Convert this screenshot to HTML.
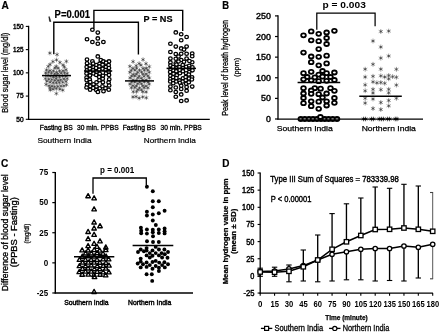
<!DOCTYPE html>
<html lang="en"><head><meta charset="utf-8"><title>Figure</title>
<style>
html,body{margin:0;padding:0;background:#fff;}
body{width:440px;height:333px;overflow:hidden;}
svg{display:block;filter:blur(0.3px);}
text{font-family:'Liberation Sans', sans-serif;fill:#000;}
</style></head><body>
<svg width="440" height="333" viewBox="0 0 440 333">
<rect width="440" height="333" fill="#fff"/>
<g id="panelA">
<text x="1.40" y="8.80" font-size="11.0" stroke="#000" stroke-width="0.2" font-weight="bold" textLength="7.30" lengthAdjust="spacingAndGlyphs">A</text>
<line x1="28.60" y1="25.80" x2="28.60" y2="119.90" stroke="#000" stroke-width="1.3"/>
<line x1="28.00" y1="119.30" x2="209.80" y2="119.30" stroke="#000" stroke-width="1.3"/>
<line x1="25.80" y1="26.40" x2="28.60" y2="26.40" stroke="#000" stroke-width="1.1"/>
<text x="13.00" y="28.80" font-size="6.8" stroke="#000" stroke-width="0.4" textLength="10.60" lengthAdjust="spacingAndGlyphs">150</text>
<line x1="25.80" y1="49.62" x2="28.60" y2="49.62" stroke="#000" stroke-width="1.1"/>
<text x="13.00" y="52.02" font-size="6.8" stroke="#000" stroke-width="0.4" textLength="10.60" lengthAdjust="spacingAndGlyphs">125</text>
<line x1="25.80" y1="72.85" x2="28.60" y2="72.85" stroke="#000" stroke-width="1.1"/>
<text x="13.00" y="75.25" font-size="6.8" stroke="#000" stroke-width="0.4" textLength="10.60" lengthAdjust="spacingAndGlyphs">100</text>
<line x1="25.80" y1="96.08" x2="28.60" y2="96.08" stroke="#000" stroke-width="1.1"/>
<text x="16.30" y="98.48" font-size="6.8" stroke="#000" stroke-width="0.4" textLength="7.30" lengthAdjust="spacingAndGlyphs">75</text>
<line x1="25.80" y1="119.30" x2="28.60" y2="119.30" stroke="#000" stroke-width="1.1"/>
<text x="16.30" y="121.70" font-size="6.8" stroke="#000" stroke-width="0.4" textLength="7.30" lengthAdjust="spacingAndGlyphs">50</text>
<text x="8.20" y="112.80" font-size="8.4" stroke="#000" stroke-width="0.25" textLength="80.00" lengthAdjust="spacingAndGlyphs" transform="rotate(-90 8.20 112.80)">Blood sugar level (mg/dl)</text>
<text x="54.60" y="17.60" font-size="10.3" stroke="#000" stroke-width="0.2" font-weight="bold" textLength="35.40" lengthAdjust="spacingAndGlyphs">P=0.001</text>
<text x="143.50" y="21.50" font-size="9.7" stroke="#000" stroke-width="0.2" font-weight="bold" textLength="29.00" lengthAdjust="spacingAndGlyphs">P = NS</text>
<path d="M49.1 16.4L49.8 18L50.9 21.6L49.6 21.4L48.9 17.2Z" stroke="#111" stroke-width="0.5" fill="#111"/>
<text x="39.80" y="129.80" font-size="6.3" stroke="#000" stroke-width="0.3" textLength="32.90" lengthAdjust="spacingAndGlyphs">Fasting BS</text>
<text x="77.00" y="129.80" font-size="6.3" stroke="#000" stroke-width="0.3" textLength="41.60" lengthAdjust="spacingAndGlyphs">30 min. PPBS</text>
<text x="122.70" y="129.80" font-size="6.3" stroke="#000" stroke-width="0.3" textLength="33.20" lengthAdjust="spacingAndGlyphs">Fasting BS</text>
<text x="160.50" y="129.80" font-size="6.3" stroke="#000" stroke-width="0.3" textLength="41.30" lengthAdjust="spacingAndGlyphs">30 min. PPBS</text>
<text x="37.40" y="142.50" font-size="8.0" stroke="#000" stroke-width="0.2" textLength="54.20" lengthAdjust="spacingAndGlyphs">Southern India</text>
<text x="143.80" y="142.50" font-size="8.0" stroke="#000" stroke-width="0.2" textLength="52.00" lengthAdjust="spacingAndGlyphs">Northern India</text>
<circle cx="49.86" cy="53.12" r="0.85" fill="#222"/>
<path d="M49.86 50.82L49.86 55.42M47.87 51.97L51.85 54.27M51.85 51.97L47.87 54.27" stroke="#555" stroke-width="0.55" fill="none"/>
<circle cx="57.05" cy="54.52" r="0.85" fill="#222"/>
<path d="M57.05 52.22L57.05 56.82M55.06 53.37L59.04 55.67M59.04 53.37L55.06 55.67" stroke="#555" stroke-width="0.55" fill="none"/>
<circle cx="56.52" cy="59.91" r="0.85" fill="#222"/>
<path d="M56.52 57.61L56.52 62.21M54.53 58.76L58.51 61.06M58.51 58.76L54.53 61.06" stroke="#555" stroke-width="0.55" fill="none"/>
<circle cx="52.86" cy="61.58" r="0.85" fill="#222"/>
<path d="M52.86 59.28L52.86 63.88M50.87 60.43L54.86 62.73M54.86 60.43L50.87 62.73" stroke="#555" stroke-width="0.55" fill="none"/>
<circle cx="59.92" cy="62.47" r="0.85" fill="#222"/>
<path d="M59.92 60.17L59.92 64.77M57.93 61.32L61.91 63.62M61.91 61.32L57.93 63.62" stroke="#555" stroke-width="0.55" fill="none"/>
<circle cx="66.40" cy="61.41" r="0.85" fill="#222"/>
<path d="M66.40 59.11L66.40 63.71M64.41 60.26L68.39 62.56M68.39 60.26L64.41 62.56" stroke="#555" stroke-width="0.55" fill="none"/>
<circle cx="50.08" cy="64.47" r="0.85" fill="#222"/>
<path d="M50.08 62.17L50.08 66.77M48.09 63.32L52.08 65.62M52.08 63.32L48.09 65.62" stroke="#555" stroke-width="0.55" fill="none"/>
<circle cx="63.02" cy="65.04" r="0.85" fill="#222"/>
<path d="M63.02 62.74L63.02 67.34M61.03 63.89L65.01 66.19M65.01 63.89L61.03 66.19" stroke="#555" stroke-width="0.55" fill="none"/>
<circle cx="48.26" cy="66.46" r="0.85" fill="#222"/>
<path d="M48.26 64.16L48.26 68.76M46.26 65.31L50.25 67.61M50.25 65.31L46.26 67.61" stroke="#555" stroke-width="0.55" fill="none"/>
<circle cx="56.29" cy="66.41" r="0.85" fill="#222"/>
<path d="M56.29 64.11L56.29 68.71M54.30 65.26L58.28 67.56M58.28 65.26L54.30 67.56" stroke="#555" stroke-width="0.55" fill="none"/>
<circle cx="64.33" cy="66.83" r="0.85" fill="#222"/>
<path d="M64.33 64.53L64.33 69.13M62.34 65.68L66.32 67.98M66.32 65.68L62.34 67.98" stroke="#555" stroke-width="0.55" fill="none"/>
<circle cx="54.95" cy="67.92" r="0.85" fill="#222"/>
<path d="M54.95 65.62L54.95 70.22M52.96 66.77L56.94 69.07M56.94 66.77L52.96 69.07" stroke="#555" stroke-width="0.55" fill="none"/>
<circle cx="58.06" cy="68.11" r="0.85" fill="#222"/>
<path d="M58.06 65.81L58.06 70.41M56.07 66.96L60.05 69.26M60.05 66.96L56.07 69.26" stroke="#555" stroke-width="0.55" fill="none"/>
<circle cx="46.55" cy="69.89" r="0.85" fill="#222"/>
<path d="M46.55 67.59L46.55 72.19M44.56 68.74L48.54 71.04M48.54 68.74L44.56 71.04" stroke="#555" stroke-width="0.55" fill="none"/>
<circle cx="49.95" cy="70.56" r="0.85" fill="#222"/>
<path d="M49.95 68.26L49.95 72.86M47.96 69.41L51.95 71.71M51.95 69.41L47.96 71.71" stroke="#555" stroke-width="0.55" fill="none"/>
<circle cx="53.34" cy="70.79" r="0.85" fill="#222"/>
<path d="M53.34 68.49L53.34 73.09M51.35 69.64L55.33 71.94M55.33 69.64L51.35 71.94" stroke="#555" stroke-width="0.55" fill="none"/>
<circle cx="59.59" cy="70.83" r="0.85" fill="#222"/>
<path d="M59.59 68.53L59.59 73.13M57.60 69.68L61.59 71.98M61.59 69.68L57.60 71.98" stroke="#555" stroke-width="0.55" fill="none"/>
<circle cx="63.02" cy="70.79" r="0.85" fill="#222"/>
<path d="M63.02 68.49L63.02 73.09M61.03 69.64L65.01 71.94M65.01 69.64L61.03 71.94" stroke="#555" stroke-width="0.55" fill="none"/>
<circle cx="66.05" cy="69.72" r="0.85" fill="#222"/>
<path d="M66.05 67.42L66.05 72.02M64.06 68.57L68.04 70.87M68.04 68.57L64.06 70.87" stroke="#555" stroke-width="0.55" fill="none"/>
<circle cx="56.50" cy="72.23" r="0.85" fill="#222"/>
<path d="M56.50 69.93L56.50 74.53M54.50 71.08L58.49 73.38M58.49 71.08L54.50 73.38" stroke="#555" stroke-width="0.55" fill="none"/>
<circle cx="45.70" cy="72.90" r="0.85" fill="#222"/>
<path d="M45.70 70.60L45.70 75.20M43.71 71.75L47.69 74.05M47.69 71.75L43.71 74.05" stroke="#555" stroke-width="0.55" fill="none"/>
<circle cx="48.53" cy="72.43" r="0.85" fill="#222"/>
<path d="M48.53 70.13L48.53 74.73M46.54 71.28L50.52 73.58M50.52 71.28L46.54 73.58" stroke="#555" stroke-width="0.55" fill="none"/>
<circle cx="51.52" cy="72.98" r="0.85" fill="#222"/>
<path d="M51.52 70.68L51.52 75.28M49.53 71.83L53.51 74.13M53.51 71.83L49.53 74.13" stroke="#555" stroke-width="0.55" fill="none"/>
<circle cx="54.70" cy="73.85" r="0.85" fill="#222"/>
<path d="M54.70 71.55L54.70 76.15M52.71 72.70L56.69 75.00M56.69 72.70L52.71 75.00" stroke="#555" stroke-width="0.55" fill="none"/>
<circle cx="57.75" cy="73.69" r="0.85" fill="#222"/>
<path d="M57.75 71.39L57.75 75.99M55.76 72.54L59.74 74.84M59.74 72.54L55.76 74.84" stroke="#555" stroke-width="0.55" fill="none"/>
<circle cx="61.12" cy="73.10" r="0.85" fill="#222"/>
<path d="M61.12 70.80L61.12 75.40M59.13 71.95L63.11 74.25M63.11 71.95L59.13 74.25" stroke="#555" stroke-width="0.55" fill="none"/>
<circle cx="64.56" cy="72.79" r="0.85" fill="#222"/>
<path d="M64.56 70.49L64.56 75.09M62.57 71.64L66.55 73.94M66.55 71.64L62.57 73.94" stroke="#555" stroke-width="0.55" fill="none"/>
<circle cx="67.31" cy="73.39" r="0.85" fill="#222"/>
<path d="M67.31 71.09L67.31 75.69M65.32 72.24L69.30 74.54M69.30 72.24L65.32 74.54" stroke="#555" stroke-width="0.55" fill="none"/>
<circle cx="47.10" cy="75.58" r="0.85" fill="#222"/>
<path d="M47.10 73.28L47.10 77.88M45.11 74.43L49.09 76.73M49.09 74.43L45.11 76.73" stroke="#555" stroke-width="0.55" fill="none"/>
<circle cx="50.34" cy="75.96" r="0.85" fill="#222"/>
<path d="M50.34 73.66L50.34 78.26M48.35 74.81L52.33 77.11M52.33 74.81L48.35 77.11" stroke="#555" stroke-width="0.55" fill="none"/>
<circle cx="53.32" cy="76.97" r="0.85" fill="#222"/>
<path d="M53.32 74.67L53.32 79.27M51.33 75.82L55.32 78.12M55.32 75.82L51.33 78.12" stroke="#555" stroke-width="0.55" fill="none"/>
<circle cx="56.16" cy="76.14" r="0.85" fill="#222"/>
<path d="M56.16 73.84L56.16 78.44M54.17 74.99L58.15 77.29M58.15 74.99L54.17 77.29" stroke="#555" stroke-width="0.55" fill="none"/>
<circle cx="59.53" cy="76.84" r="0.85" fill="#222"/>
<path d="M59.53 74.54L59.53 79.14M57.54 75.69L61.52 77.99M61.52 75.69L57.54 77.99" stroke="#555" stroke-width="0.55" fill="none"/>
<circle cx="62.55" cy="75.97" r="0.85" fill="#222"/>
<path d="M62.55 73.67L62.55 78.27M60.56 74.82L64.55 77.12M64.55 74.82L60.56 77.12" stroke="#555" stroke-width="0.55" fill="none"/>
<circle cx="65.84" cy="76.03" r="0.85" fill="#222"/>
<path d="M65.84 73.73L65.84 78.33M63.85 74.88L67.83 77.18M67.83 74.88L63.85 77.18" stroke="#555" stroke-width="0.55" fill="none"/>
<circle cx="45.45" cy="78.53" r="0.85" fill="#222"/>
<path d="M45.45 76.23L45.45 80.83M43.46 77.38L47.44 79.68M47.44 77.38L43.46 79.68" stroke="#555" stroke-width="0.55" fill="none"/>
<circle cx="48.81" cy="79.22" r="0.85" fill="#222"/>
<path d="M48.81 76.92L48.81 81.52M46.82 78.07L50.81 80.37M50.81 78.07L46.82 80.37" stroke="#555" stroke-width="0.55" fill="none"/>
<circle cx="51.72" cy="79.53" r="0.85" fill="#222"/>
<path d="M51.72 77.23L51.72 81.83M49.73 78.38L53.71 80.68M53.71 78.38L49.73 80.68" stroke="#555" stroke-width="0.55" fill="none"/>
<circle cx="54.91" cy="80.34" r="0.85" fill="#222"/>
<path d="M54.91 78.04L54.91 82.64M52.92 79.19L56.90 81.49M56.90 79.19L52.92 81.49" stroke="#555" stroke-width="0.55" fill="none"/>
<circle cx="56.20" cy="78.32" r="0.85" fill="#222"/>
<path d="M56.20 76.02L56.20 80.62M54.21 77.17L58.20 79.47M58.20 77.17L54.21 79.47" stroke="#555" stroke-width="0.55" fill="none"/>
<circle cx="58.15" cy="80.38" r="0.85" fill="#222"/>
<path d="M58.15 78.08L58.15 82.68M56.16 79.23L60.14 81.53M60.14 79.23L56.16 81.53" stroke="#555" stroke-width="0.55" fill="none"/>
<circle cx="60.77" cy="79.82" r="0.85" fill="#222"/>
<path d="M60.77 77.52L60.77 82.12M58.78 78.67L62.76 80.97M62.76 78.67L58.78 80.97" stroke="#555" stroke-width="0.55" fill="none"/>
<circle cx="64.00" cy="78.92" r="0.85" fill="#222"/>
<path d="M64.00 76.62L64.00 81.22M62.00 77.77L65.99 80.07M65.99 77.77L62.00 80.07" stroke="#555" stroke-width="0.55" fill="none"/>
<circle cx="67.26" cy="78.61" r="0.85" fill="#222"/>
<path d="M67.26 76.31L67.26 80.91M65.26 77.46L69.25 79.76M69.25 77.46L65.26 79.76" stroke="#555" stroke-width="0.55" fill="none"/>
<circle cx="50.12" cy="82.21" r="0.85" fill="#222"/>
<path d="M50.12 79.91L50.12 84.51M48.13 81.06L52.11 83.36M52.11 81.06L48.13 83.36" stroke="#555" stroke-width="0.55" fill="none"/>
<circle cx="53.22" cy="82.71" r="0.85" fill="#222"/>
<path d="M53.22 80.41L53.22 85.01M51.23 81.56L55.21 83.86M55.21 81.56L51.23 83.86" stroke="#555" stroke-width="0.55" fill="none"/>
<circle cx="56.31" cy="82.84" r="0.85" fill="#222"/>
<path d="M56.31 80.54L56.31 85.14M54.32 81.69L58.30 83.99M58.30 81.69L54.32 83.99" stroke="#555" stroke-width="0.55" fill="none"/>
<circle cx="59.39" cy="82.62" r="0.85" fill="#222"/>
<path d="M59.39 80.32L59.39 84.92M57.40 81.47L61.38 83.77M61.38 81.47L57.40 83.77" stroke="#555" stroke-width="0.55" fill="none"/>
<circle cx="62.69" cy="82.25" r="0.85" fill="#222"/>
<path d="M62.69 79.95L62.69 84.55M60.70 81.10L64.69 83.40M64.69 81.10L60.70 83.40" stroke="#555" stroke-width="0.55" fill="none"/>
<circle cx="46.83" cy="81.17" r="0.85" fill="#222"/>
<path d="M46.83 78.87L46.83 83.47M44.84 80.02L48.82 82.32M48.82 80.02L44.84 82.32" stroke="#555" stroke-width="0.55" fill="none"/>
<circle cx="66.04" cy="81.42" r="0.85" fill="#222"/>
<path d="M66.04 79.12L66.04 83.72M64.05 80.27L68.04 82.57M68.04 80.27L64.05 82.57" stroke="#555" stroke-width="0.55" fill="none"/>
<circle cx="46.15" cy="84.47" r="0.85" fill="#222"/>
<path d="M46.15 82.17L46.15 86.77M44.16 83.32L48.14 85.62M48.14 83.32L44.16 85.62" stroke="#555" stroke-width="0.55" fill="none"/>
<circle cx="49.05" cy="85.76" r="0.85" fill="#222"/>
<path d="M49.05 83.46L49.05 88.06M47.06 84.61L51.04 86.91M51.04 84.61L47.06 86.91" stroke="#555" stroke-width="0.55" fill="none"/>
<circle cx="51.98" cy="86.16" r="0.85" fill="#222"/>
<path d="M51.98 83.86L51.98 88.46M49.99 85.01L53.97 87.31M53.97 85.01L49.99 87.31" stroke="#555" stroke-width="0.55" fill="none"/>
<circle cx="54.58" cy="86.61" r="0.85" fill="#222"/>
<path d="M54.58 84.31L54.58 88.91M52.59 85.46L56.57 87.76M56.57 85.46L52.59 87.76" stroke="#555" stroke-width="0.55" fill="none"/>
<circle cx="57.77" cy="86.40" r="0.85" fill="#222"/>
<path d="M57.77 84.10L57.77 88.70M55.77 85.25L59.76 87.55M59.76 85.25L55.77 87.55" stroke="#555" stroke-width="0.55" fill="none"/>
<circle cx="60.97" cy="86.02" r="0.85" fill="#222"/>
<path d="M60.97 83.72L60.97 88.32M58.98 84.87L62.96 87.17M62.96 84.87L58.98 87.17" stroke="#555" stroke-width="0.55" fill="none"/>
<circle cx="63.92" cy="85.82" r="0.85" fill="#222"/>
<path d="M63.92 83.52L63.92 88.12M61.92 84.67L65.91 86.97M65.91 84.67L61.92 86.97" stroke="#555" stroke-width="0.55" fill="none"/>
<circle cx="66.47" cy="84.74" r="0.85" fill="#222"/>
<path d="M66.47 82.44L66.47 87.04M64.47 83.59L68.46 85.89M68.46 83.59L64.47 85.89" stroke="#555" stroke-width="0.55" fill="none"/>
<circle cx="50.00" cy="87.97" r="0.85" fill="#222"/>
<path d="M50.00 85.67L50.00 90.27M48.01 86.82L52.00 89.12M52.00 86.82L48.01 89.12" stroke="#555" stroke-width="0.55" fill="none"/>
<circle cx="53.02" cy="89.17" r="0.85" fill="#222"/>
<path d="M53.02 86.87L53.02 91.47M51.03 88.02L55.02 90.32M55.02 88.02L51.03 90.32" stroke="#555" stroke-width="0.55" fill="none"/>
<circle cx="56.30" cy="88.58" r="0.85" fill="#222"/>
<path d="M56.30 86.28L56.30 90.88M54.31 87.43L58.29 89.73M58.29 87.43L54.31 89.73" stroke="#555" stroke-width="0.55" fill="none"/>
<circle cx="59.85" cy="89.18" r="0.85" fill="#222"/>
<path d="M59.85 86.88L59.85 91.48M57.86 88.03L61.84 90.33M61.84 88.03L57.86 90.33" stroke="#555" stroke-width="0.55" fill="none"/>
<circle cx="62.74" cy="90.18" r="0.85" fill="#222"/>
<path d="M62.74 87.88L62.74 92.48M60.75 89.03L64.73 91.33M64.73 89.03L60.75 91.33" stroke="#555" stroke-width="0.55" fill="none"/>
<circle cx="50.29" cy="89.91" r="0.85" fill="#222"/>
<path d="M50.29 87.61L50.29 92.21M48.30 88.76L52.29 91.06M52.29 88.76L48.30 91.06" stroke="#555" stroke-width="0.55" fill="none"/>
<circle cx="56.39" cy="93.50" r="0.85" fill="#222"/>
<path d="M56.39 91.20L56.39 95.80M54.40 92.35L58.38 94.65M58.38 92.35L54.40 94.65" stroke="#555" stroke-width="0.55" fill="none"/>
<line x1="42.00" y1="75.60" x2="71.00" y2="75.60" stroke="#000" stroke-width="1.5"/>
<circle cx="143.05" cy="59.56" r="0.85" fill="#222"/>
<path d="M143.05 57.26L143.05 61.86M141.05 58.41L145.04 60.71M145.04 58.41L141.05 60.71" stroke="#555" stroke-width="0.55" fill="none"/>
<circle cx="133.09" cy="61.58" r="0.85" fill="#222"/>
<path d="M133.09 59.28L133.09 63.88M131.10 60.43L135.08 62.73M135.08 60.43L131.10 62.73" stroke="#555" stroke-width="0.55" fill="none"/>
<circle cx="139.15" cy="63.48" r="0.85" fill="#222"/>
<path d="M139.15 61.18L139.15 65.78M137.16 62.33L141.14 64.63M141.14 62.33L137.16 64.63" stroke="#555" stroke-width="0.55" fill="none"/>
<circle cx="145.99" cy="63.63" r="0.85" fill="#222"/>
<path d="M145.99 61.33L145.99 65.93M143.99 62.48L147.98 64.78M147.98 62.48L143.99 64.78" stroke="#555" stroke-width="0.55" fill="none"/>
<circle cx="140.94" cy="65.14" r="0.85" fill="#222"/>
<path d="M140.94 62.84L140.94 67.44M138.94 63.99L142.93 66.29M142.93 63.99L138.94 66.29" stroke="#555" stroke-width="0.55" fill="none"/>
<circle cx="129.89" cy="66.35" r="0.85" fill="#222"/>
<path d="M129.89 64.05L129.89 68.65M127.89 65.20L131.88 67.50M131.88 65.20L127.89 67.50" stroke="#555" stroke-width="0.55" fill="none"/>
<circle cx="149.31" cy="66.56" r="0.85" fill="#222"/>
<path d="M149.31 64.26L149.31 68.86M147.32 65.41L151.31 67.71M151.31 65.41L147.32 67.71" stroke="#555" stroke-width="0.55" fill="none"/>
<circle cx="136.22" cy="65.69" r="0.85" fill="#222"/>
<path d="M136.22 63.39L136.22 67.99M134.23 64.54L138.21 66.84M138.21 64.54L134.23 66.84" stroke="#555" stroke-width="0.55" fill="none"/>
<circle cx="132.95" cy="68.33" r="0.85" fill="#222"/>
<path d="M132.95 66.03L132.95 70.63M130.95 67.18L134.94 69.48M134.94 67.18L130.95 69.48" stroke="#555" stroke-width="0.55" fill="none"/>
<circle cx="136.65" cy="68.18" r="0.85" fill="#222"/>
<path d="M136.65 65.88L136.65 70.48M134.66 67.03L138.64 69.33M138.64 67.03L134.66 69.33" stroke="#555" stroke-width="0.55" fill="none"/>
<circle cx="143.05" cy="68.39" r="0.85" fill="#222"/>
<path d="M143.05 66.09L143.05 70.69M141.06 67.24L145.04 69.54M145.04 67.24L141.06 69.54" stroke="#555" stroke-width="0.55" fill="none"/>
<circle cx="146.17" cy="68.22" r="0.85" fill="#222"/>
<path d="M146.17 65.92L146.17 70.52M144.18 67.07L148.16 69.37M148.16 67.07L144.18 69.37" stroke="#555" stroke-width="0.55" fill="none"/>
<circle cx="131.30" cy="70.40" r="0.85" fill="#222"/>
<path d="M131.30 68.10L131.30 72.70M129.30 69.25L133.29 71.55M133.29 69.25L129.30 71.55" stroke="#555" stroke-width="0.55" fill="none"/>
<circle cx="139.55" cy="70.22" r="0.85" fill="#222"/>
<path d="M139.55 67.92L139.55 72.52M137.56 69.07L141.54 71.37M141.54 69.07L137.56 71.37" stroke="#555" stroke-width="0.55" fill="none"/>
<circle cx="147.80" cy="70.10" r="0.85" fill="#222"/>
<path d="M147.80 67.80L147.80 72.40M145.81 68.95L149.79 71.25M149.79 68.95L145.81 71.25" stroke="#555" stroke-width="0.55" fill="none"/>
<circle cx="134.87" cy="70.15" r="0.85" fill="#222"/>
<path d="M134.87 67.85L134.87 72.45M132.88 69.00L136.86 71.30M136.86 69.00L132.88 71.30" stroke="#555" stroke-width="0.55" fill="none"/>
<circle cx="144.43" cy="70.29" r="0.85" fill="#222"/>
<path d="M144.43 67.99L144.43 72.59M142.43 69.14L146.42 71.44M146.42 69.14L142.43 71.44" stroke="#555" stroke-width="0.55" fill="none"/>
<circle cx="129.85" cy="72.28" r="0.85" fill="#222"/>
<path d="M129.85 69.98L129.85 74.58M127.86 71.13L131.84 73.43M131.84 71.13L127.86 73.43" stroke="#555" stroke-width="0.55" fill="none"/>
<circle cx="137.73" cy="72.42" r="0.85" fill="#222"/>
<path d="M137.73 70.12L137.73 74.72M135.74 71.27L139.72 73.57M139.72 71.27L135.74 73.57" stroke="#555" stroke-width="0.55" fill="none"/>
<circle cx="141.50" cy="72.21" r="0.85" fill="#222"/>
<path d="M141.50 69.91L141.50 74.51M139.51 71.06L143.50 73.36M143.50 71.06L139.51 73.36" stroke="#555" stroke-width="0.55" fill="none"/>
<circle cx="149.27" cy="72.30" r="0.85" fill="#222"/>
<path d="M149.27 70.00L149.27 74.60M147.28 71.15L151.26 73.45M151.26 71.15L147.28 73.45" stroke="#555" stroke-width="0.55" fill="none"/>
<circle cx="133.25" cy="74.39" r="0.85" fill="#222"/>
<path d="M133.25 72.09L133.25 76.69M131.26 73.24L135.24 75.54M135.24 73.24L131.26 75.54" stroke="#555" stroke-width="0.55" fill="none"/>
<circle cx="136.26" cy="74.08" r="0.85" fill="#222"/>
<path d="M136.26 71.78L136.26 76.38M134.27 72.93L138.26 75.23M138.26 72.93L134.27 75.23" stroke="#555" stroke-width="0.55" fill="none"/>
<circle cx="142.95" cy="74.05" r="0.85" fill="#222"/>
<path d="M142.95 71.75L142.95 76.35M140.96 72.90L144.94 75.20M144.94 72.90L140.96 75.20" stroke="#555" stroke-width="0.55" fill="none"/>
<circle cx="146.04" cy="73.94" r="0.85" fill="#222"/>
<path d="M146.04 71.64L146.04 76.24M144.05 72.79L148.04 75.09M148.04 72.79L144.05 75.09" stroke="#555" stroke-width="0.55" fill="none"/>
<circle cx="131.69" cy="76.11" r="0.85" fill="#222"/>
<path d="M131.69 73.81L131.69 78.41M129.70 74.96L133.68 77.26M133.68 74.96L129.70 77.26" stroke="#555" stroke-width="0.55" fill="none"/>
<circle cx="139.21" cy="76.18" r="0.85" fill="#222"/>
<path d="M139.21 73.88L139.21 78.48M137.22 75.03L141.20 77.33M141.20 75.03L137.22 77.33" stroke="#555" stroke-width="0.55" fill="none"/>
<circle cx="147.91" cy="75.95" r="0.85" fill="#222"/>
<path d="M147.91 73.65L147.91 78.25M145.91 74.80L149.90 77.10M149.90 74.80L145.91 77.10" stroke="#555" stroke-width="0.55" fill="none"/>
<circle cx="134.79" cy="75.92" r="0.85" fill="#222"/>
<path d="M134.79 73.62L134.79 78.22M132.80 74.77L136.78 77.07M136.78 74.77L132.80 77.07" stroke="#555" stroke-width="0.55" fill="none"/>
<circle cx="144.05" cy="76.28" r="0.85" fill="#222"/>
<path d="M144.05 73.98L144.05 78.58M142.06 75.13L146.05 77.43M146.05 75.13L142.06 77.43" stroke="#555" stroke-width="0.55" fill="none"/>
<circle cx="130.10" cy="77.81" r="0.85" fill="#222"/>
<path d="M130.10 75.51L130.10 80.11M128.11 76.66L132.09 78.96M132.09 76.66L128.11 78.96" stroke="#555" stroke-width="0.55" fill="none"/>
<circle cx="137.94" cy="77.81" r="0.85" fill="#222"/>
<path d="M137.94 75.51L137.94 80.11M135.95 76.66L139.93 78.96M139.93 76.66L135.95 78.96" stroke="#555" stroke-width="0.55" fill="none"/>
<circle cx="141.22" cy="78.25" r="0.85" fill="#222"/>
<path d="M141.22 75.95L141.22 80.55M139.22 77.10L143.21 79.40M143.21 77.10L139.22 79.40" stroke="#555" stroke-width="0.55" fill="none"/>
<circle cx="149.26" cy="77.95" r="0.85" fill="#222"/>
<path d="M149.26 75.65L149.26 80.25M147.27 76.80L151.25 79.10M151.25 76.80L147.27 79.10" stroke="#555" stroke-width="0.55" fill="none"/>
<circle cx="133.04" cy="79.94" r="0.85" fill="#222"/>
<path d="M133.04 77.64L133.04 82.24M131.05 78.79L135.03 81.09M135.03 78.79L131.05 81.09" stroke="#555" stroke-width="0.55" fill="none"/>
<circle cx="136.31" cy="80.25" r="0.85" fill="#222"/>
<path d="M136.31 77.95L136.31 82.55M134.32 79.10L138.31 81.40M138.31 79.10L134.32 81.40" stroke="#555" stroke-width="0.55" fill="none"/>
<circle cx="142.68" cy="79.96" r="0.85" fill="#222"/>
<path d="M142.68 77.66L142.68 82.26M140.69 78.81L144.67 81.11M144.67 78.81L140.69 81.11" stroke="#555" stroke-width="0.55" fill="none"/>
<circle cx="146.12" cy="79.95" r="0.85" fill="#222"/>
<path d="M146.12 77.65L146.12 82.25M144.13 78.80L148.12 81.10M148.12 78.80L144.13 81.10" stroke="#555" stroke-width="0.55" fill="none"/>
<circle cx="131.74" cy="81.82" r="0.85" fill="#222"/>
<path d="M131.74 79.52L131.74 84.12M129.75 80.67L133.73 82.97M133.73 80.67L129.75 82.97" stroke="#555" stroke-width="0.55" fill="none"/>
<circle cx="139.64" cy="82.15" r="0.85" fill="#222"/>
<path d="M139.64 79.85L139.64 84.45M137.65 81.00L141.63 83.30M141.63 81.00L137.65 83.30" stroke="#555" stroke-width="0.55" fill="none"/>
<circle cx="148.09" cy="82.14" r="0.85" fill="#222"/>
<path d="M148.09 79.84L148.09 84.44M146.09 80.99L150.08 83.29M150.08 80.99L146.09 83.29" stroke="#555" stroke-width="0.55" fill="none"/>
<circle cx="134.77" cy="82.12" r="0.85" fill="#222"/>
<path d="M134.77 79.82L134.77 84.42M132.78 80.97L136.77 83.27M136.77 80.97L132.78 83.27" stroke="#555" stroke-width="0.55" fill="none"/>
<circle cx="144.35" cy="81.96" r="0.85" fill="#222"/>
<path d="M144.35 79.66L144.35 84.26M142.36 80.81L146.34 83.11M146.34 80.81L142.36 83.11" stroke="#555" stroke-width="0.55" fill="none"/>
<circle cx="129.99" cy="84.00" r="0.85" fill="#222"/>
<path d="M129.99 81.70L129.99 86.30M127.99 82.85L131.98 85.15M131.98 82.85L127.99 85.15" stroke="#555" stroke-width="0.55" fill="none"/>
<circle cx="137.75" cy="83.69" r="0.85" fill="#222"/>
<path d="M137.75 81.39L137.75 85.99M135.76 82.54L139.75 84.84M139.75 82.54L135.76 84.84" stroke="#555" stroke-width="0.55" fill="none"/>
<circle cx="141.42" cy="83.78" r="0.85" fill="#222"/>
<path d="M141.42 81.48L141.42 86.08M139.43 82.63L143.42 84.93M143.42 82.63L139.43 84.93" stroke="#555" stroke-width="0.55" fill="none"/>
<circle cx="149.19" cy="84.04" r="0.85" fill="#222"/>
<path d="M149.19 81.74L149.19 86.34M147.20 82.89L151.19 85.19M151.19 82.89L147.20 85.19" stroke="#555" stroke-width="0.55" fill="none"/>
<circle cx="132.94" cy="85.61" r="0.85" fill="#222"/>
<path d="M132.94 83.31L132.94 87.91M130.94 84.46L134.93 86.76M134.93 84.46L130.94 86.76" stroke="#555" stroke-width="0.55" fill="none"/>
<circle cx="136.31" cy="85.89" r="0.85" fill="#222"/>
<path d="M136.31 83.59L136.31 88.19M134.32 84.74L138.30 87.04M138.30 84.74L134.32 87.04" stroke="#555" stroke-width="0.55" fill="none"/>
<circle cx="142.83" cy="85.73" r="0.85" fill="#222"/>
<path d="M142.83 83.43L142.83 88.03M140.84 84.58L144.82 86.88M144.82 84.58L140.84 86.88" stroke="#555" stroke-width="0.55" fill="none"/>
<circle cx="145.98" cy="86.06" r="0.85" fill="#222"/>
<path d="M145.98 83.76L145.98 88.36M143.98 84.91L147.97 87.21M147.97 84.91L143.98 87.21" stroke="#555" stroke-width="0.55" fill="none"/>
<circle cx="131.38" cy="87.76" r="0.85" fill="#222"/>
<path d="M131.38 85.46L131.38 90.06M129.39 86.61L133.37 88.91M133.37 86.61L129.39 88.91" stroke="#555" stroke-width="0.55" fill="none"/>
<circle cx="139.59" cy="87.86" r="0.85" fill="#222"/>
<path d="M139.59 85.56L139.59 90.16M137.60 86.71L141.58 89.01M141.58 86.71L137.60 89.01" stroke="#555" stroke-width="0.55" fill="none"/>
<circle cx="147.88" cy="87.79" r="0.85" fill="#222"/>
<path d="M147.88 85.49L147.88 90.09M145.89 86.64L149.88 88.94M149.88 86.64L145.89 88.94" stroke="#555" stroke-width="0.55" fill="none"/>
<circle cx="134.79" cy="87.62" r="0.85" fill="#222"/>
<path d="M134.79 85.32L134.79 89.92M132.80 86.47L136.78 88.77M136.78 86.47L132.80 88.77" stroke="#555" stroke-width="0.55" fill="none"/>
<circle cx="144.14" cy="87.70" r="0.85" fill="#222"/>
<path d="M144.14 85.40L144.14 90.00M142.15 86.55L146.13 88.85M146.13 86.55L142.15 88.85" stroke="#555" stroke-width="0.55" fill="none"/>
<circle cx="137.95" cy="89.66" r="0.85" fill="#222"/>
<path d="M137.95 87.36L137.95 91.96M135.96 88.51L139.94 90.81M139.94 88.51L135.96 90.81" stroke="#555" stroke-width="0.55" fill="none"/>
<circle cx="141.38" cy="89.99" r="0.85" fill="#222"/>
<path d="M141.38 87.69L141.38 92.29M139.39 88.84L143.37 91.14M143.37 88.84L139.39 91.14" stroke="#555" stroke-width="0.55" fill="none"/>
<circle cx="133.31" cy="91.64" r="0.85" fill="#222"/>
<path d="M133.31 89.34L133.31 93.94M131.32 90.49L135.30 92.79M135.30 90.49L131.32 92.79" stroke="#555" stroke-width="0.55" fill="none"/>
<circle cx="136.55" cy="91.61" r="0.85" fill="#222"/>
<path d="M136.55 89.31L136.55 93.91M134.56 90.46L138.54 92.76M138.54 90.46L134.56 92.76" stroke="#555" stroke-width="0.55" fill="none"/>
<circle cx="142.85" cy="91.69" r="0.85" fill="#222"/>
<path d="M142.85 89.39L142.85 93.99M140.86 90.54L144.84 92.84M144.84 90.54L140.86 92.84" stroke="#555" stroke-width="0.55" fill="none"/>
<circle cx="146.15" cy="91.92" r="0.85" fill="#222"/>
<path d="M146.15 89.62L146.15 94.22M144.15 90.77L148.14 93.07M148.14 90.77L144.15 93.07" stroke="#555" stroke-width="0.55" fill="none"/>
<circle cx="133.00" cy="96.95" r="0.85" fill="#222"/>
<path d="M133.00 94.65L133.00 99.25M131.00 95.80L134.99 98.10M134.99 95.80L131.00 98.10" stroke="#555" stroke-width="0.55" fill="none"/>
<circle cx="136.07" cy="96.58" r="0.85" fill="#222"/>
<path d="M136.07 94.28L136.07 98.88M134.08 95.43L138.07 97.73M138.07 95.43L134.08 97.73" stroke="#555" stroke-width="0.55" fill="none"/>
<circle cx="139.17" cy="98.14" r="0.85" fill="#222"/>
<path d="M139.17 95.84L139.17 100.44M137.17 96.99L141.16 99.29M141.16 96.99L137.17 99.29" stroke="#555" stroke-width="0.55" fill="none"/>
<circle cx="142.71" cy="96.81" r="0.85" fill="#222"/>
<path d="M142.71 94.51L142.71 99.11M140.71 95.66L144.70 97.96M144.70 95.66L140.71 97.96" stroke="#555" stroke-width="0.55" fill="none"/>
<circle cx="146.33" cy="97.72" r="0.85" fill="#222"/>
<path d="M146.33 95.42L146.33 100.02M144.34 96.57L148.32 98.87M148.32 96.57L144.34 98.87" stroke="#555" stroke-width="0.55" fill="none"/>
<line x1="125.00" y1="80.90" x2="154.00" y2="80.90" stroke="#000" stroke-width="1.5"/>
<ellipse cx="92.40" cy="29.80" rx="1.8" ry="1.65" stroke="#000" stroke-width="1.3" fill="#fff"/>
<ellipse cx="97.80" cy="32.60" rx="1.8" ry="1.65" stroke="#000" stroke-width="1.3" fill="#fff"/>
<ellipse cx="97.80" cy="38.40" rx="1.8" ry="1.65" stroke="#000" stroke-width="1.3" fill="#fff"/>
<ellipse cx="87.00" cy="39.20" rx="1.8" ry="1.65" stroke="#000" stroke-width="1.3" fill="#fff"/>
<ellipse cx="92.40" cy="42.00" rx="1.8" ry="1.65" stroke="#000" stroke-width="1.3" fill="#fff"/>
<ellipse cx="103.40" cy="42.00" rx="1.8" ry="1.65" stroke="#000" stroke-width="1.3" fill="#fff"/>
<ellipse cx="97.80" cy="43.80" rx="1.8" ry="1.65" stroke="#000" stroke-width="1.3" fill="#fff"/>
<ellipse cx="97.80" cy="56.40" rx="1.8" ry="1.65" stroke="#000" stroke-width="1.3" fill="#fff"/>
<ellipse cx="87.00" cy="59.60" rx="1.8" ry="1.65" stroke="#000" stroke-width="1.3" fill="#fff"/>
<ellipse cx="92.40" cy="61.20" rx="1.8" ry="1.65" stroke="#000" stroke-width="1.3" fill="#fff"/>
<ellipse cx="100.80" cy="60.00" rx="1.8" ry="1.65" stroke="#000" stroke-width="1.3" fill="#fff"/>
<ellipse cx="103.40" cy="61.40" rx="1.8" ry="1.65" stroke="#000" stroke-width="1.3" fill="#fff"/>
<ellipse cx="109.00" cy="61.40" rx="1.8" ry="1.65" stroke="#000" stroke-width="1.3" fill="#fff"/>
<ellipse cx="87.03" cy="63.36" rx="1.8" ry="1.65" stroke="#000" stroke-width="1.3" fill="#fff"/>
<ellipse cx="86.70" cy="67.05" rx="1.8" ry="1.65" stroke="#000" stroke-width="1.3" fill="#fff"/>
<ellipse cx="86.91" cy="70.21" rx="1.8" ry="1.65" stroke="#000" stroke-width="1.3" fill="#fff"/>
<ellipse cx="86.55" cy="73.55" rx="1.8" ry="1.65" stroke="#000" stroke-width="1.3" fill="#fff"/>
<ellipse cx="86.60" cy="77.55" rx="1.8" ry="1.65" stroke="#000" stroke-width="1.3" fill="#fff"/>
<ellipse cx="86.71" cy="80.15" rx="1.8" ry="1.65" stroke="#000" stroke-width="1.3" fill="#fff"/>
<ellipse cx="87.07" cy="84.65" rx="1.8" ry="1.65" stroke="#000" stroke-width="1.3" fill="#fff"/>
<ellipse cx="86.57" cy="87.49" rx="1.8" ry="1.65" stroke="#000" stroke-width="1.3" fill="#fff"/>
<ellipse cx="89.78" cy="65.49" rx="1.8" ry="1.65" stroke="#000" stroke-width="1.3" fill="#fff"/>
<ellipse cx="89.81" cy="68.83" rx="1.8" ry="1.65" stroke="#000" stroke-width="1.3" fill="#fff"/>
<ellipse cx="90.35" cy="71.89" rx="1.8" ry="1.65" stroke="#000" stroke-width="1.3" fill="#fff"/>
<ellipse cx="89.94" cy="75.43" rx="1.8" ry="1.65" stroke="#000" stroke-width="1.3" fill="#fff"/>
<ellipse cx="89.73" cy="79.39" rx="1.8" ry="1.65" stroke="#000" stroke-width="1.3" fill="#fff"/>
<ellipse cx="90.25" cy="82.10" rx="1.8" ry="1.65" stroke="#000" stroke-width="1.3" fill="#fff"/>
<ellipse cx="90.33" cy="86.26" rx="1.8" ry="1.65" stroke="#000" stroke-width="1.3" fill="#fff"/>
<ellipse cx="90.11" cy="89.73" rx="1.8" ry="1.65" stroke="#000" stroke-width="1.3" fill="#fff"/>
<ellipse cx="93.18" cy="63.59" rx="1.8" ry="1.65" stroke="#000" stroke-width="1.3" fill="#fff"/>
<ellipse cx="93.50" cy="67.17" rx="1.8" ry="1.65" stroke="#000" stroke-width="1.3" fill="#fff"/>
<ellipse cx="93.11" cy="70.14" rx="1.8" ry="1.65" stroke="#000" stroke-width="1.3" fill="#fff"/>
<ellipse cx="93.55" cy="73.56" rx="1.8" ry="1.65" stroke="#000" stroke-width="1.3" fill="#fff"/>
<ellipse cx="93.54" cy="84.20" rx="1.8" ry="1.65" stroke="#000" stroke-width="1.3" fill="#fff"/>
<ellipse cx="93.24" cy="88.00" rx="1.8" ry="1.65" stroke="#000" stroke-width="1.3" fill="#fff"/>
<ellipse cx="96.43" cy="65.02" rx="1.8" ry="1.65" stroke="#000" stroke-width="1.3" fill="#fff"/>
<ellipse cx="96.13" cy="68.05" rx="1.8" ry="1.65" stroke="#000" stroke-width="1.3" fill="#fff"/>
<ellipse cx="96.65" cy="71.77" rx="1.8" ry="1.65" stroke="#000" stroke-width="1.3" fill="#fff"/>
<ellipse cx="96.21" cy="74.97" rx="1.8" ry="1.65" stroke="#000" stroke-width="1.3" fill="#fff"/>
<ellipse cx="96.54" cy="82.30" rx="1.8" ry="1.65" stroke="#000" stroke-width="1.3" fill="#fff"/>
<ellipse cx="96.47" cy="86.43" rx="1.8" ry="1.65" stroke="#000" stroke-width="1.3" fill="#fff"/>
<ellipse cx="96.28" cy="90.04" rx="1.8" ry="1.65" stroke="#000" stroke-width="1.3" fill="#fff"/>
<ellipse cx="99.56" cy="63.66" rx="1.8" ry="1.65" stroke="#000" stroke-width="1.3" fill="#fff"/>
<ellipse cx="99.41" cy="66.40" rx="1.8" ry="1.65" stroke="#000" stroke-width="1.3" fill="#fff"/>
<ellipse cx="99.26" cy="69.68" rx="1.8" ry="1.65" stroke="#000" stroke-width="1.3" fill="#fff"/>
<ellipse cx="99.69" cy="73.68" rx="1.8" ry="1.65" stroke="#000" stroke-width="1.3" fill="#fff"/>
<ellipse cx="99.19" cy="76.91" rx="1.8" ry="1.65" stroke="#000" stroke-width="1.3" fill="#fff"/>
<ellipse cx="99.44" cy="80.30" rx="1.8" ry="1.65" stroke="#000" stroke-width="1.3" fill="#fff"/>
<ellipse cx="99.78" cy="88.28" rx="1.8" ry="1.65" stroke="#000" stroke-width="1.3" fill="#fff"/>
<ellipse cx="102.64" cy="64.65" rx="1.8" ry="1.65" stroke="#000" stroke-width="1.3" fill="#fff"/>
<ellipse cx="102.67" cy="68.72" rx="1.8" ry="1.65" stroke="#000" stroke-width="1.3" fill="#fff"/>
<ellipse cx="102.89" cy="75.80" rx="1.8" ry="1.65" stroke="#000" stroke-width="1.3" fill="#fff"/>
<ellipse cx="102.72" cy="78.86" rx="1.8" ry="1.65" stroke="#000" stroke-width="1.3" fill="#fff"/>
<ellipse cx="102.89" cy="82.22" rx="1.8" ry="1.65" stroke="#000" stroke-width="1.3" fill="#fff"/>
<ellipse cx="102.49" cy="86.27" rx="1.8" ry="1.65" stroke="#000" stroke-width="1.3" fill="#fff"/>
<ellipse cx="106.12" cy="62.63" rx="1.8" ry="1.65" stroke="#000" stroke-width="1.3" fill="#fff"/>
<ellipse cx="105.90" cy="67.12" rx="1.8" ry="1.65" stroke="#000" stroke-width="1.3" fill="#fff"/>
<ellipse cx="105.63" cy="70.09" rx="1.8" ry="1.65" stroke="#000" stroke-width="1.3" fill="#fff"/>
<ellipse cx="106.08" cy="73.26" rx="1.8" ry="1.65" stroke="#000" stroke-width="1.3" fill="#fff"/>
<ellipse cx="105.55" cy="88.14" rx="1.8" ry="1.65" stroke="#000" stroke-width="1.3" fill="#fff"/>
<ellipse cx="108.69" cy="65.00" rx="1.8" ry="1.65" stroke="#000" stroke-width="1.3" fill="#fff"/>
<ellipse cx="108.95" cy="68.11" rx="1.8" ry="1.65" stroke="#000" stroke-width="1.3" fill="#fff"/>
<ellipse cx="108.73" cy="71.80" rx="1.8" ry="1.65" stroke="#000" stroke-width="1.3" fill="#fff"/>
<ellipse cx="108.99" cy="74.91" rx="1.8" ry="1.65" stroke="#000" stroke-width="1.3" fill="#fff"/>
<ellipse cx="109.21" cy="79.28" rx="1.8" ry="1.65" stroke="#000" stroke-width="1.3" fill="#fff"/>
<ellipse cx="108.61" cy="82.41" rx="1.8" ry="1.65" stroke="#000" stroke-width="1.3" fill="#fff"/>
<ellipse cx="109.13" cy="85.56" rx="1.8" ry="1.65" stroke="#000" stroke-width="1.3" fill="#fff"/>
<ellipse cx="108.78" cy="89.69" rx="1.8" ry="1.65" stroke="#000" stroke-width="1.3" fill="#fff"/>
<ellipse cx="97.90" cy="92.00" rx="1.8" ry="1.65" stroke="#000" stroke-width="1.3" fill="#fff"/>
<ellipse cx="103.50" cy="91.30" rx="1.8" ry="1.65" stroke="#000" stroke-width="1.3" fill="#fff"/>
<line x1="84.00" y1="71.00" x2="112.20" y2="71.00" stroke="#000" stroke-width="1.5"/>
<ellipse cx="175.80" cy="32.40" rx="1.8" ry="1.65" stroke="#000" stroke-width="1.3" fill="#fff"/>
<ellipse cx="181.20" cy="34.20" rx="1.8" ry="1.65" stroke="#000" stroke-width="1.3" fill="#fff"/>
<ellipse cx="186.60" cy="37.00" rx="1.8" ry="1.65" stroke="#000" stroke-width="1.3" fill="#fff"/>
<ellipse cx="181.20" cy="40.20" rx="1.8" ry="1.65" stroke="#000" stroke-width="1.3" fill="#fff"/>
<ellipse cx="170.40" cy="43.80" rx="1.8" ry="1.65" stroke="#000" stroke-width="1.3" fill="#fff"/>
<ellipse cx="175.80" cy="46.60" rx="1.8" ry="1.65" stroke="#000" stroke-width="1.3" fill="#fff"/>
<ellipse cx="186.60" cy="46.60" rx="1.8" ry="1.65" stroke="#000" stroke-width="1.3" fill="#fff"/>
<ellipse cx="181.20" cy="48.40" rx="1.8" ry="1.65" stroke="#000" stroke-width="1.3" fill="#fff"/>
<ellipse cx="184.00" cy="49.60" rx="1.8" ry="1.65" stroke="#000" stroke-width="1.3" fill="#fff"/>
<ellipse cx="170.40" cy="52.00" rx="1.8" ry="1.65" stroke="#000" stroke-width="1.3" fill="#fff"/>
<ellipse cx="175.80" cy="54.00" rx="1.8" ry="1.65" stroke="#000" stroke-width="1.3" fill="#fff"/>
<ellipse cx="181.20" cy="53.80" rx="1.8" ry="1.65" stroke="#000" stroke-width="1.3" fill="#fff"/>
<ellipse cx="186.60" cy="53.80" rx="1.8" ry="1.65" stroke="#000" stroke-width="1.3" fill="#fff"/>
<ellipse cx="192.20" cy="53.60" rx="1.8" ry="1.65" stroke="#000" stroke-width="1.3" fill="#fff"/>
<ellipse cx="192.20" cy="56.20" rx="1.8" ry="1.65" stroke="#000" stroke-width="1.3" fill="#fff"/>
<ellipse cx="170.40" cy="58.60" rx="1.8" ry="1.65" stroke="#000" stroke-width="1.3" fill="#fff"/>
<ellipse cx="175.80" cy="58.80" rx="1.8" ry="1.65" stroke="#000" stroke-width="1.3" fill="#fff"/>
<ellipse cx="181.20" cy="60.00" rx="1.8" ry="1.65" stroke="#000" stroke-width="1.3" fill="#fff"/>
<ellipse cx="186.60" cy="58.60" rx="1.8" ry="1.65" stroke="#000" stroke-width="1.3" fill="#fff"/>
<ellipse cx="170.40" cy="62.40" rx="1.8" ry="1.65" stroke="#000" stroke-width="1.3" fill="#fff"/>
<ellipse cx="175.80" cy="63.20" rx="1.8" ry="1.65" stroke="#000" stroke-width="1.3" fill="#fff"/>
<ellipse cx="184.00" cy="61.80" rx="1.8" ry="1.65" stroke="#000" stroke-width="1.3" fill="#fff"/>
<ellipse cx="192.20" cy="62.20" rx="1.8" ry="1.65" stroke="#000" stroke-width="1.3" fill="#fff"/>
<ellipse cx="178.50" cy="56.50" rx="1.8" ry="1.65" stroke="#000" stroke-width="1.3" fill="#fff"/>
<ellipse cx="178.50" cy="61.50" rx="1.8" ry="1.65" stroke="#000" stroke-width="1.3" fill="#fff"/>
<ellipse cx="189.40" cy="61.00" rx="1.8" ry="1.65" stroke="#000" stroke-width="1.3" fill="#fff"/>
<ellipse cx="170.49" cy="65.58" rx="1.8" ry="1.65" stroke="#000" stroke-width="1.3" fill="#fff"/>
<ellipse cx="170.51" cy="68.97" rx="1.8" ry="1.65" stroke="#000" stroke-width="1.3" fill="#fff"/>
<ellipse cx="170.18" cy="71.98" rx="1.8" ry="1.65" stroke="#000" stroke-width="1.3" fill="#fff"/>
<ellipse cx="170.40" cy="75.66" rx="1.8" ry="1.65" stroke="#000" stroke-width="1.3" fill="#fff"/>
<ellipse cx="170.36" cy="78.93" rx="1.8" ry="1.65" stroke="#000" stroke-width="1.3" fill="#fff"/>
<ellipse cx="170.26" cy="81.47" rx="1.8" ry="1.65" stroke="#000" stroke-width="1.3" fill="#fff"/>
<ellipse cx="173.19" cy="66.98" rx="1.8" ry="1.65" stroke="#000" stroke-width="1.3" fill="#fff"/>
<ellipse cx="173.45" cy="70.57" rx="1.8" ry="1.65" stroke="#000" stroke-width="1.3" fill="#fff"/>
<ellipse cx="173.54" cy="73.67" rx="1.8" ry="1.65" stroke="#000" stroke-width="1.3" fill="#fff"/>
<ellipse cx="173.19" cy="77.33" rx="1.8" ry="1.65" stroke="#000" stroke-width="1.3" fill="#fff"/>
<ellipse cx="173.30" cy="80.53" rx="1.8" ry="1.65" stroke="#000" stroke-width="1.3" fill="#fff"/>
<ellipse cx="173.24" cy="83.14" rx="1.8" ry="1.65" stroke="#000" stroke-width="1.3" fill="#fff"/>
<ellipse cx="176.44" cy="64.61" rx="1.8" ry="1.65" stroke="#000" stroke-width="1.3" fill="#fff"/>
<ellipse cx="176.46" cy="68.37" rx="1.8" ry="1.65" stroke="#000" stroke-width="1.3" fill="#fff"/>
<ellipse cx="176.33" cy="71.24" rx="1.8" ry="1.65" stroke="#000" stroke-width="1.3" fill="#fff"/>
<ellipse cx="176.77" cy="75.17" rx="1.8" ry="1.65" stroke="#000" stroke-width="1.3" fill="#fff"/>
<ellipse cx="176.35" cy="77.94" rx="1.8" ry="1.65" stroke="#000" stroke-width="1.3" fill="#fff"/>
<ellipse cx="176.29" cy="81.43" rx="1.8" ry="1.65" stroke="#000" stroke-width="1.3" fill="#fff"/>
<ellipse cx="179.48" cy="67.03" rx="1.8" ry="1.65" stroke="#000" stroke-width="1.3" fill="#fff"/>
<ellipse cx="179.68" cy="69.98" rx="1.8" ry="1.65" stroke="#000" stroke-width="1.3" fill="#fff"/>
<ellipse cx="179.90" cy="73.22" rx="1.8" ry="1.65" stroke="#000" stroke-width="1.3" fill="#fff"/>
<ellipse cx="179.62" cy="80.39" rx="1.8" ry="1.65" stroke="#000" stroke-width="1.3" fill="#fff"/>
<ellipse cx="179.96" cy="82.77" rx="1.8" ry="1.65" stroke="#000" stroke-width="1.3" fill="#fff"/>
<ellipse cx="182.76" cy="64.98" rx="1.8" ry="1.65" stroke="#000" stroke-width="1.3" fill="#fff"/>
<ellipse cx="182.94" cy="68.10" rx="1.8" ry="1.65" stroke="#000" stroke-width="1.3" fill="#fff"/>
<ellipse cx="182.88" cy="71.24" rx="1.8" ry="1.65" stroke="#000" stroke-width="1.3" fill="#fff"/>
<ellipse cx="182.96" cy="78.36" rx="1.8" ry="1.65" stroke="#000" stroke-width="1.3" fill="#fff"/>
<ellipse cx="182.80" cy="81.41" rx="1.8" ry="1.65" stroke="#000" stroke-width="1.3" fill="#fff"/>
<ellipse cx="186.22" cy="66.83" rx="1.8" ry="1.65" stroke="#000" stroke-width="1.3" fill="#fff"/>
<ellipse cx="186.11" cy="73.24" rx="1.8" ry="1.65" stroke="#000" stroke-width="1.3" fill="#fff"/>
<ellipse cx="185.68" cy="77.00" rx="1.8" ry="1.65" stroke="#000" stroke-width="1.3" fill="#fff"/>
<ellipse cx="185.75" cy="80.20" rx="1.8" ry="1.65" stroke="#000" stroke-width="1.3" fill="#fff"/>
<ellipse cx="186.23" cy="83.75" rx="1.8" ry="1.65" stroke="#000" stroke-width="1.3" fill="#fff"/>
<ellipse cx="189.22" cy="65.71" rx="1.8" ry="1.65" stroke="#000" stroke-width="1.3" fill="#fff"/>
<ellipse cx="189.18" cy="68.60" rx="1.8" ry="1.65" stroke="#000" stroke-width="1.3" fill="#fff"/>
<ellipse cx="189.25" cy="71.95" rx="1.8" ry="1.65" stroke="#000" stroke-width="1.3" fill="#fff"/>
<ellipse cx="188.81" cy="74.61" rx="1.8" ry="1.65" stroke="#000" stroke-width="1.3" fill="#fff"/>
<ellipse cx="189.06" cy="78.49" rx="1.8" ry="1.65" stroke="#000" stroke-width="1.3" fill="#fff"/>
<ellipse cx="188.78" cy="82.24" rx="1.8" ry="1.65" stroke="#000" stroke-width="1.3" fill="#fff"/>
<ellipse cx="192.40" cy="67.18" rx="1.8" ry="1.65" stroke="#000" stroke-width="1.3" fill="#fff"/>
<ellipse cx="192.45" cy="70.37" rx="1.8" ry="1.65" stroke="#000" stroke-width="1.3" fill="#fff"/>
<ellipse cx="192.04" cy="77.25" rx="1.8" ry="1.65" stroke="#000" stroke-width="1.3" fill="#fff"/>
<ellipse cx="191.85" cy="79.50" rx="1.8" ry="1.65" stroke="#000" stroke-width="1.3" fill="#fff"/>
<ellipse cx="170.40" cy="86.60" rx="1.8" ry="1.65" stroke="#000" stroke-width="1.3" fill="#fff"/>
<ellipse cx="192.20" cy="86.60" rx="1.8" ry="1.65" stroke="#000" stroke-width="1.3" fill="#fff"/>
<ellipse cx="170.40" cy="90.20" rx="1.8" ry="1.65" stroke="#000" stroke-width="1.3" fill="#fff"/>
<ellipse cx="181.20" cy="89.00" rx="1.8" ry="1.65" stroke="#000" stroke-width="1.3" fill="#fff"/>
<ellipse cx="186.60" cy="90.80" rx="1.8" ry="1.65" stroke="#000" stroke-width="1.3" fill="#fff"/>
<ellipse cx="175.80" cy="92.00" rx="1.8" ry="1.65" stroke="#000" stroke-width="1.3" fill="#fff"/>
<ellipse cx="181.20" cy="94.40" rx="1.8" ry="1.65" stroke="#000" stroke-width="1.3" fill="#fff"/>
<ellipse cx="175.80" cy="96.80" rx="1.8" ry="1.65" stroke="#000" stroke-width="1.3" fill="#fff"/>
<ellipse cx="181.20" cy="101.00" rx="1.8" ry="1.65" stroke="#000" stroke-width="1.3" fill="#fff"/>
<ellipse cx="186.60" cy="100.40" rx="1.8" ry="1.65" stroke="#000" stroke-width="1.3" fill="#fff"/>
<ellipse cx="175.80" cy="87.50" rx="1.8" ry="1.65" stroke="#000" stroke-width="1.3" fill="#fff"/>
<ellipse cx="186.60" cy="87.00" rx="1.8" ry="1.65" stroke="#000" stroke-width="1.3" fill="#fff"/>
<ellipse cx="181.20" cy="85.80" rx="1.8" ry="1.65" stroke="#000" stroke-width="1.3" fill="#fff"/>
<line x1="166.60" y1="68.40" x2="196.00" y2="68.40" stroke="#000" stroke-width="1.5"/>
<path d="M53.8 54.2V22.2H138.4V54.6" stroke="#000" stroke-width="1.4" fill="none"/>
<path d="M93.9 28.6V10.4H182.7V31" stroke="#000" stroke-width="1.4" fill="none"/>
</g>
<g id="panelB">
<text x="222.30" y="8.60" font-size="11.0" stroke="#000" stroke-width="0.2" font-weight="bold" textLength="6.80" lengthAdjust="spacingAndGlyphs">B</text>
<line x1="275.00" y1="119.00" x2="278.00" y2="119.00" stroke="#000" stroke-width="1.2"/>
<text x="266.00" y="122.00" font-size="8.4" stroke="#000" stroke-width="0.4" textLength="4.90" lengthAdjust="spacingAndGlyphs">0</text>
<line x1="275.00" y1="98.38" x2="278.00" y2="98.38" stroke="#000" stroke-width="1.2"/>
<text x="261.00" y="101.38" font-size="8.4" stroke="#000" stroke-width="0.4" textLength="9.90" lengthAdjust="spacingAndGlyphs">50</text>
<line x1="275.00" y1="77.76" x2="278.00" y2="77.76" stroke="#000" stroke-width="1.2"/>
<text x="256.00" y="80.76" font-size="8.4" stroke="#000" stroke-width="0.4" textLength="14.90" lengthAdjust="spacingAndGlyphs">100</text>
<line x1="275.00" y1="57.14" x2="278.00" y2="57.14" stroke="#000" stroke-width="1.2"/>
<text x="256.00" y="60.14" font-size="8.4" stroke="#000" stroke-width="0.4" textLength="14.90" lengthAdjust="spacingAndGlyphs">150</text>
<line x1="275.00" y1="36.52" x2="278.00" y2="36.52" stroke="#000" stroke-width="1.2"/>
<text x="256.00" y="39.52" font-size="8.4" stroke="#000" stroke-width="0.4" textLength="14.90" lengthAdjust="spacingAndGlyphs">200</text>
<line x1="275.00" y1="15.90" x2="278.00" y2="15.90" stroke="#000" stroke-width="1.2"/>
<text x="256.00" y="18.90" font-size="8.4" stroke="#000" stroke-width="0.4" textLength="14.90" lengthAdjust="spacingAndGlyphs">250</text>
<text x="228.50" y="115.70" font-size="8.8" stroke="#000" stroke-width="0.3" textLength="95.60" lengthAdjust="spacingAndGlyphs" transform="rotate(-90 228.50 115.70)">Peak level of breath hydrogen</text>
<text x="239.20" y="77.00" font-size="7.8" stroke="#000" stroke-width="0.2" textLength="19.20" lengthAdjust="spacingAndGlyphs" transform="rotate(-90 239.20 77.00)">(ppm)</text>
<text x="322.60" y="7.50" font-size="9.0" font-weight="bold" textLength="43.20" lengthAdjust="spacingAndGlyphs">p = 0.003</text>
<text x="276.80" y="130.50" font-size="7.8" stroke="#000" stroke-width="0.25" textLength="56.00" lengthAdjust="spacingAndGlyphs">Southern India</text>
<text x="361.70" y="130.50" font-size="7.8" stroke="#000" stroke-width="0.25" textLength="54.20" lengthAdjust="spacingAndGlyphs">Northern India</text>
<ellipse cx="303.50" cy="35.30" rx="2.35" ry="2.0" stroke="#000" stroke-width="1.8" fill="#fff"/>
<ellipse cx="311.20" cy="31.40" rx="2.35" ry="2.0" stroke="#000" stroke-width="1.8" fill="#fff"/>
<ellipse cx="318.70" cy="33.80" rx="2.35" ry="2.0" stroke="#000" stroke-width="1.8" fill="#fff"/>
<ellipse cx="326.60" cy="32.50" rx="2.35" ry="2.0" stroke="#000" stroke-width="1.8" fill="#fff"/>
<ellipse cx="334.40" cy="30.80" rx="2.35" ry="2.0" stroke="#000" stroke-width="1.8" fill="#fff"/>
<ellipse cx="311.20" cy="40.30" rx="2.35" ry="2.0" stroke="#000" stroke-width="1.8" fill="#fff"/>
<ellipse cx="318.70" cy="41.20" rx="2.35" ry="2.0" stroke="#000" stroke-width="1.8" fill="#fff"/>
<ellipse cx="326.60" cy="38.00" rx="2.35" ry="2.0" stroke="#000" stroke-width="1.8" fill="#fff"/>
<ellipse cx="326.60" cy="44.00" rx="2.35" ry="2.0" stroke="#000" stroke-width="1.8" fill="#fff"/>
<ellipse cx="318.70" cy="49.10" rx="2.35" ry="2.0" stroke="#000" stroke-width="1.8" fill="#fff"/>
<ellipse cx="303.50" cy="52.60" rx="2.35" ry="2.0" stroke="#000" stroke-width="1.8" fill="#fff"/>
<ellipse cx="311.20" cy="56.50" rx="2.35" ry="2.0" stroke="#000" stroke-width="1.8" fill="#fff"/>
<ellipse cx="318.70" cy="56.80" rx="2.35" ry="2.0" stroke="#000" stroke-width="1.8" fill="#fff"/>
<ellipse cx="326.60" cy="55.70" rx="2.35" ry="2.0" stroke="#000" stroke-width="1.8" fill="#fff"/>
<ellipse cx="311.20" cy="62.20" rx="2.35" ry="2.0" stroke="#000" stroke-width="1.8" fill="#fff"/>
<ellipse cx="318.70" cy="65.30" rx="2.35" ry="2.0" stroke="#000" stroke-width="1.8" fill="#fff"/>
<ellipse cx="326.60" cy="63.40" rx="2.35" ry="2.0" stroke="#000" stroke-width="1.8" fill="#fff"/>
<ellipse cx="303.50" cy="73.20" rx="2.35" ry="2.0" stroke="#000" stroke-width="1.8" fill="#fff"/>
<ellipse cx="311.20" cy="71.80" rx="2.35" ry="2.0" stroke="#000" stroke-width="1.8" fill="#fff"/>
<ellipse cx="322.50" cy="71.00" rx="2.35" ry="2.0" stroke="#000" stroke-width="1.8" fill="#fff"/>
<ellipse cx="326.60" cy="73.20" rx="2.35" ry="2.0" stroke="#000" stroke-width="1.8" fill="#fff"/>
<ellipse cx="334.40" cy="72.50" rx="2.35" ry="2.0" stroke="#000" stroke-width="1.8" fill="#fff"/>
<ellipse cx="318.70" cy="74.70" rx="2.35" ry="2.0" stroke="#000" stroke-width="1.8" fill="#fff"/>
<ellipse cx="307.20" cy="77.00" rx="2.35" ry="2.0" stroke="#000" stroke-width="1.8" fill="#fff"/>
<ellipse cx="314.80" cy="77.40" rx="2.35" ry="2.0" stroke="#000" stroke-width="1.8" fill="#fff"/>
<ellipse cx="322.50" cy="76.70" rx="2.35" ry="2.0" stroke="#000" stroke-width="1.8" fill="#fff"/>
<ellipse cx="330.50" cy="77.00" rx="2.35" ry="2.0" stroke="#000" stroke-width="1.8" fill="#fff"/>
<ellipse cx="303.50" cy="79.30" rx="2.35" ry="2.0" stroke="#000" stroke-width="1.8" fill="#fff"/>
<ellipse cx="311.20" cy="80.30" rx="2.35" ry="2.0" stroke="#000" stroke-width="1.8" fill="#fff"/>
<ellipse cx="318.70" cy="81.20" rx="2.35" ry="2.0" stroke="#000" stroke-width="1.8" fill="#fff"/>
<ellipse cx="326.60" cy="80.80" rx="2.35" ry="2.0" stroke="#000" stroke-width="1.8" fill="#fff"/>
<ellipse cx="334.40" cy="80.00" rx="2.35" ry="2.0" stroke="#000" stroke-width="1.8" fill="#fff"/>
<ellipse cx="303.50" cy="88.20" rx="2.35" ry="2.0" stroke="#000" stroke-width="1.8" fill="#fff"/>
<ellipse cx="314.80" cy="88.20" rx="2.35" ry="2.0" stroke="#000" stroke-width="1.8" fill="#fff"/>
<ellipse cx="320.60" cy="88.70" rx="2.35" ry="2.0" stroke="#000" stroke-width="1.8" fill="#fff"/>
<ellipse cx="330.50" cy="88.20" rx="2.35" ry="2.0" stroke="#000" stroke-width="1.8" fill="#fff"/>
<ellipse cx="311.20" cy="90.50" rx="2.35" ry="2.0" stroke="#000" stroke-width="1.8" fill="#fff"/>
<ellipse cx="334.40" cy="90.80" rx="2.35" ry="2.0" stroke="#000" stroke-width="1.8" fill="#fff"/>
<ellipse cx="303.50" cy="93.50" rx="2.35" ry="2.0" stroke="#000" stroke-width="1.8" fill="#fff"/>
<ellipse cx="311.20" cy="93.80" rx="2.35" ry="2.0" stroke="#000" stroke-width="1.8" fill="#fff"/>
<ellipse cx="318.70" cy="94.20" rx="2.35" ry="2.0" stroke="#000" stroke-width="1.8" fill="#fff"/>
<ellipse cx="326.60" cy="93.50" rx="2.35" ry="2.0" stroke="#000" stroke-width="1.8" fill="#fff"/>
<ellipse cx="303.50" cy="98.00" rx="2.35" ry="2.0" stroke="#000" stroke-width="1.8" fill="#fff"/>
<ellipse cx="322.50" cy="97.50" rx="2.35" ry="2.0" stroke="#000" stroke-width="1.8" fill="#fff"/>
<ellipse cx="334.40" cy="98.00" rx="2.35" ry="2.0" stroke="#000" stroke-width="1.8" fill="#fff"/>
<ellipse cx="311.20" cy="101.30" rx="2.35" ry="2.0" stroke="#000" stroke-width="1.8" fill="#fff"/>
<ellipse cx="318.70" cy="101.70" rx="2.35" ry="2.0" stroke="#000" stroke-width="1.8" fill="#fff"/>
<ellipse cx="326.60" cy="101.30" rx="2.35" ry="2.0" stroke="#000" stroke-width="1.8" fill="#fff"/>
<ellipse cx="303.50" cy="103.20" rx="2.35" ry="2.0" stroke="#000" stroke-width="1.8" fill="#fff"/>
<ellipse cx="334.40" cy="102.80" rx="2.35" ry="2.0" stroke="#000" stroke-width="1.8" fill="#fff"/>
<ellipse cx="311.20" cy="106.20" rx="2.35" ry="2.0" stroke="#000" stroke-width="1.8" fill="#fff"/>
<ellipse cx="326.60" cy="105.50" rx="2.35" ry="2.0" stroke="#000" stroke-width="1.8" fill="#fff"/>
<ellipse cx="318.70" cy="108.80" rx="2.35" ry="2.0" stroke="#000" stroke-width="1.8" fill="#fff"/>
<ellipse cx="300.80" cy="119.00" rx="2.35" ry="2.0" stroke="#000" stroke-width="1.8" fill="#fff"/>
<ellipse cx="304.80" cy="119.00" rx="2.35" ry="2.0" stroke="#000" stroke-width="1.8" fill="#fff"/>
<ellipse cx="309.00" cy="119.00" rx="2.35" ry="2.0" stroke="#000" stroke-width="1.8" fill="#fff"/>
<ellipse cx="313.00" cy="119.00" rx="2.35" ry="2.0" stroke="#000" stroke-width="1.8" fill="#fff"/>
<ellipse cx="317.00" cy="119.00" rx="2.35" ry="2.0" stroke="#000" stroke-width="1.8" fill="#fff"/>
<ellipse cx="321.00" cy="119.00" rx="2.35" ry="2.0" stroke="#000" stroke-width="1.8" fill="#fff"/>
<ellipse cx="324.80" cy="119.00" rx="2.35" ry="2.0" stroke="#000" stroke-width="1.8" fill="#fff"/>
<ellipse cx="328.60" cy="119.00" rx="2.35" ry="2.0" stroke="#000" stroke-width="1.8" fill="#fff"/>
<ellipse cx="332.70" cy="119.00" rx="2.35" ry="2.0" stroke="#000" stroke-width="1.8" fill="#fff"/>
<ellipse cx="337.00" cy="119.00" rx="2.35" ry="2.0" stroke="#000" stroke-width="1.8" fill="#fff"/>
<ellipse cx="320.40" cy="117.00" rx="2.35" ry="2.0" stroke="#000" stroke-width="1.8" fill="#fff"/>
<line x1="297.60" y1="82.50" x2="340.20" y2="82.50" stroke="#000" stroke-width="1.5"/>
<circle cx="380.80" cy="31.50" r="0.9" fill="#333"/>
<path d="M380.80 29.10L380.80 33.90M378.72 30.30L382.88 32.70M382.88 30.30L378.72 32.70" stroke="#555" stroke-width="0.6" fill="none"/>
<circle cx="388.70" cy="31.10" r="0.9" fill="#333"/>
<path d="M388.70 28.70L388.70 33.50M386.62 29.90L390.78 32.30M390.78 29.90L386.62 32.30" stroke="#555" stroke-width="0.6" fill="none"/>
<circle cx="373.00" cy="41.00" r="0.9" fill="#333"/>
<path d="M373.00 38.60L373.00 43.40M370.92 39.80L375.08 42.20M375.08 39.80L370.92 42.20" stroke="#555" stroke-width="0.6" fill="none"/>
<circle cx="380.80" cy="47.00" r="0.9" fill="#333"/>
<path d="M380.80 44.60L380.80 49.40M378.72 45.80L382.88 48.20M382.88 45.80L378.72 48.20" stroke="#555" stroke-width="0.6" fill="none"/>
<circle cx="388.70" cy="56.00" r="0.9" fill="#333"/>
<path d="M388.70 53.60L388.70 58.40M386.62 54.80L390.78 57.20M390.78 54.80L386.62 57.20" stroke="#555" stroke-width="0.6" fill="none"/>
<circle cx="380.80" cy="58.10" r="0.9" fill="#333"/>
<path d="M380.80 55.70L380.80 60.50M378.72 56.90L382.88 59.30M382.88 56.90L378.72 59.30" stroke="#555" stroke-width="0.6" fill="none"/>
<circle cx="373.00" cy="64.30" r="0.9" fill="#333"/>
<path d="M373.00 61.90L373.00 66.70M370.92 63.10L375.08 65.50M375.08 63.10L370.92 65.50" stroke="#555" stroke-width="0.6" fill="none"/>
<circle cx="365.20" cy="69.20" r="0.9" fill="#333"/>
<path d="M365.20 66.80L365.20 71.60M363.12 68.00L367.28 70.40M367.28 68.00L363.12 70.40" stroke="#555" stroke-width="0.6" fill="none"/>
<circle cx="380.80" cy="69.20" r="0.9" fill="#333"/>
<path d="M380.80 66.80L380.80 71.60M378.72 68.00L382.88 70.40M382.88 68.00L378.72 70.40" stroke="#555" stroke-width="0.6" fill="none"/>
<circle cx="396.40" cy="69.30" r="0.9" fill="#333"/>
<path d="M396.40 66.90L396.40 71.70M394.32 68.10L398.48 70.50M398.48 68.10L394.32 70.50" stroke="#555" stroke-width="0.6" fill="none"/>
<circle cx="365.20" cy="77.00" r="0.9" fill="#333"/>
<path d="M365.20 74.60L365.20 79.40M363.12 75.80L367.28 78.20M367.28 75.80L363.12 78.20" stroke="#555" stroke-width="0.6" fill="none"/>
<circle cx="373.00" cy="76.30" r="0.9" fill="#333"/>
<path d="M373.00 73.90L373.00 78.70M370.92 75.10L375.08 77.50M375.08 75.10L370.92 77.50" stroke="#555" stroke-width="0.6" fill="none"/>
<circle cx="380.80" cy="75.80" r="0.9" fill="#333"/>
<path d="M380.80 73.40L380.80 78.20M378.72 74.60L382.88 77.00M382.88 74.60L378.72 77.00" stroke="#555" stroke-width="0.6" fill="none"/>
<circle cx="384.70" cy="77.00" r="0.9" fill="#333"/>
<path d="M384.70 74.60L384.70 79.40M382.62 75.80L386.78 78.20M386.78 75.80L382.62 78.20" stroke="#555" stroke-width="0.6" fill="none"/>
<circle cx="388.70" cy="75.50" r="0.9" fill="#333"/>
<path d="M388.70 73.10L388.70 77.90M386.62 74.30L390.78 76.70M390.78 74.30L386.62 76.70" stroke="#555" stroke-width="0.6" fill="none"/>
<circle cx="388.70" cy="78.80" r="0.9" fill="#333"/>
<path d="M388.70 76.40L388.70 81.20M386.62 77.60L390.78 80.00M390.78 77.60L386.62 80.00" stroke="#555" stroke-width="0.6" fill="none"/>
<circle cx="392.60" cy="76.60" r="0.9" fill="#333"/>
<path d="M392.60 74.20L392.60 79.00M390.52 75.40L394.68 77.80M394.68 75.40L390.52 77.80" stroke="#555" stroke-width="0.6" fill="none"/>
<circle cx="396.40" cy="77.30" r="0.9" fill="#333"/>
<path d="M396.40 74.90L396.40 79.70M394.32 76.10L398.48 78.50M398.48 76.10L394.32 78.50" stroke="#555" stroke-width="0.6" fill="none"/>
<circle cx="373.00" cy="81.80" r="0.9" fill="#333"/>
<path d="M373.00 79.40L373.00 84.20M370.92 80.60L375.08 83.00M375.08 80.60L370.92 83.00" stroke="#555" stroke-width="0.6" fill="none"/>
<circle cx="376.90" cy="82.80" r="0.9" fill="#333"/>
<path d="M376.90 80.40L376.90 85.20M374.82 81.60L378.98 84.00M378.98 81.60L374.82 84.00" stroke="#555" stroke-width="0.6" fill="none"/>
<circle cx="380.80" cy="82.50" r="0.9" fill="#333"/>
<path d="M380.80 80.10L380.80 84.90M378.72 81.30L382.88 83.70M382.88 81.30L378.72 83.70" stroke="#555" stroke-width="0.6" fill="none"/>
<circle cx="384.70" cy="83.30" r="0.9" fill="#333"/>
<path d="M384.70 80.90L384.70 85.70M382.62 82.10L386.78 84.50M386.78 82.10L382.62 84.50" stroke="#555" stroke-width="0.6" fill="none"/>
<circle cx="365.20" cy="84.80" r="0.9" fill="#333"/>
<path d="M365.20 82.40L365.20 87.20M363.12 83.60L367.28 86.00M367.28 83.60L363.12 86.00" stroke="#555" stroke-width="0.6" fill="none"/>
<circle cx="396.40" cy="85.10" r="0.9" fill="#333"/>
<path d="M396.40 82.70L396.40 87.50M394.32 83.90L398.48 86.30M398.48 83.90L394.32 86.30" stroke="#555" stroke-width="0.6" fill="none"/>
<circle cx="373.00" cy="89.30" r="0.9" fill="#333"/>
<path d="M373.00 86.90L373.00 91.70M370.92 88.10L375.08 90.50M375.08 88.10L370.92 90.50" stroke="#555" stroke-width="0.6" fill="none"/>
<circle cx="380.80" cy="89.60" r="0.9" fill="#333"/>
<path d="M380.80 87.20L380.80 92.00M378.72 88.40L382.88 90.80M382.88 88.40L378.72 90.80" stroke="#555" stroke-width="0.6" fill="none"/>
<circle cx="388.70" cy="89.30" r="0.9" fill="#333"/>
<path d="M388.70 86.90L388.70 91.70M386.62 88.10L390.78 90.50M390.78 88.10L386.62 90.50" stroke="#555" stroke-width="0.6" fill="none"/>
<circle cx="365.20" cy="90.80" r="0.9" fill="#333"/>
<path d="M365.20 88.40L365.20 93.20M363.12 89.60L367.28 92.00M367.28 89.60L363.12 92.00" stroke="#555" stroke-width="0.6" fill="none"/>
<circle cx="373.00" cy="93.00" r="0.9" fill="#333"/>
<path d="M373.00 90.60L373.00 95.40M370.92 91.80L375.08 94.20M375.08 91.80L370.92 94.20" stroke="#555" stroke-width="0.6" fill="none"/>
<circle cx="388.70" cy="92.80" r="0.9" fill="#333"/>
<path d="M388.70 90.40L388.70 95.20M386.62 91.60L390.78 94.00M390.78 91.60L386.62 94.00" stroke="#555" stroke-width="0.6" fill="none"/>
<circle cx="365.20" cy="98.30" r="0.9" fill="#333"/>
<path d="M365.20 95.90L365.20 100.70M363.12 97.10L367.28 99.50M367.28 97.10L363.12 99.50" stroke="#555" stroke-width="0.6" fill="none"/>
<circle cx="373.00" cy="99.00" r="0.9" fill="#333"/>
<path d="M373.00 96.60L373.00 101.40M370.92 97.80L375.08 100.20M375.08 97.80L370.92 100.20" stroke="#555" stroke-width="0.6" fill="none"/>
<circle cx="396.40" cy="98.30" r="0.9" fill="#333"/>
<path d="M396.40 95.90L396.40 100.70M394.32 97.10L398.48 99.50M398.48 97.10L394.32 99.50" stroke="#555" stroke-width="0.6" fill="none"/>
<circle cx="388.70" cy="100.50" r="0.9" fill="#333"/>
<path d="M388.70 98.10L388.70 102.90M386.62 99.30L390.78 101.70M390.78 99.30L386.62 101.70" stroke="#555" stroke-width="0.6" fill="none"/>
<circle cx="365.20" cy="103.10" r="0.9" fill="#333"/>
<path d="M365.20 100.70L365.20 105.50M363.12 101.90L367.28 104.30M367.28 101.90L363.12 104.30" stroke="#555" stroke-width="0.6" fill="none"/>
<circle cx="380.80" cy="102.50" r="0.9" fill="#333"/>
<path d="M380.80 100.10L380.80 104.90M378.72 101.30L382.88 103.70M382.88 101.30L378.72 103.70" stroke="#555" stroke-width="0.6" fill="none"/>
<circle cx="388.70" cy="105.80" r="0.9" fill="#333"/>
<path d="M388.70 103.40L388.70 108.20M386.62 104.60L390.78 107.00M390.78 104.60L386.62 107.00" stroke="#555" stroke-width="0.6" fill="none"/>
<circle cx="373.00" cy="108.50" r="0.9" fill="#333"/>
<path d="M373.00 106.10L373.00 110.90M370.92 107.30L375.08 109.70M375.08 107.30L370.92 109.70" stroke="#555" stroke-width="0.6" fill="none"/>
<circle cx="380.80" cy="109.50" r="0.9" fill="#333"/>
<path d="M380.80 107.10L380.80 111.90M378.72 108.30L382.88 110.70M382.88 108.30L378.72 110.70" stroke="#555" stroke-width="0.6" fill="none"/>
<circle cx="363.60" cy="119.00" r="1.0" fill="#111"/>
<path d="M363.60 116.70L363.60 121.30M361.61 117.85L365.59 120.15M365.59 117.85L361.61 120.15" stroke="#111" stroke-width="0.7" fill="none"/>
<circle cx="365.60" cy="119.00" r="1.0" fill="#111"/>
<path d="M365.60 116.70L365.60 121.30M363.61 117.85L367.59 120.15M367.59 117.85L363.61 120.15" stroke="#111" stroke-width="0.7" fill="none"/>
<circle cx="371.40" cy="119.00" r="1.0" fill="#111"/>
<path d="M371.40 116.70L371.40 121.30M369.41 117.85L373.39 120.15M373.39 117.85L369.41 120.15" stroke="#111" stroke-width="0.7" fill="none"/>
<circle cx="373.40" cy="119.00" r="1.0" fill="#111"/>
<path d="M373.40 116.70L373.40 121.30M371.41 117.85L375.39 120.15M375.39 117.85L371.41 120.15" stroke="#111" stroke-width="0.7" fill="none"/>
<circle cx="379.20" cy="119.00" r="1.0" fill="#111"/>
<path d="M379.20 116.70L379.20 121.30M377.21 117.85L381.19 120.15M381.19 117.85L377.21 120.15" stroke="#111" stroke-width="0.7" fill="none"/>
<circle cx="381.40" cy="119.00" r="1.0" fill="#111"/>
<path d="M381.40 116.70L381.40 121.30M379.41 117.85L383.39 120.15M383.39 117.85L379.41 120.15" stroke="#111" stroke-width="0.7" fill="none"/>
<circle cx="383.40" cy="119.00" r="1.0" fill="#111"/>
<path d="M383.40 116.70L383.40 121.30M381.41 117.85L385.39 120.15M385.39 117.85L381.41 120.15" stroke="#111" stroke-width="0.7" fill="none"/>
<circle cx="387.40" cy="119.00" r="1.0" fill="#111"/>
<path d="M387.40 116.70L387.40 121.30M385.41 117.85L389.39 120.15M389.39 117.85L385.41 120.15" stroke="#111" stroke-width="0.7" fill="none"/>
<circle cx="389.60" cy="119.00" r="1.0" fill="#111"/>
<path d="M389.60 116.70L389.60 121.30M387.61 117.85L391.59 120.15M391.59 117.85L387.61 120.15" stroke="#111" stroke-width="0.7" fill="none"/>
<circle cx="395.20" cy="119.00" r="1.0" fill="#111"/>
<path d="M395.20 116.70L395.20 121.30M393.21 117.85L397.19 120.15M397.19 117.85L393.21 120.15" stroke="#111" stroke-width="0.7" fill="none"/>
<circle cx="397.00" cy="119.00" r="1.0" fill="#111"/>
<path d="M397.00 116.70L397.00 121.30M395.01 117.85L398.99 120.15M398.99 117.85L395.01 120.15" stroke="#111" stroke-width="0.7" fill="none"/>
<line x1="359.30" y1="96.20" x2="401.80" y2="96.20" stroke="#000" stroke-width="1.5"/>
<line x1="278.00" y1="15.30" x2="278.00" y2="119.60" stroke="#000" stroke-width="1.3"/>
<line x1="277.40" y1="119.10" x2="423.00" y2="119.10" stroke="#000" stroke-width="1.2"/>
<path d="M316.8 29.7V13.2H375.1V26.3" stroke="#000" stroke-width="1.25" fill="none"/>
</g>
<g id="panelC">
<text x="1.10" y="166.60" font-size="11.0" stroke="#000" stroke-width="0.2" font-weight="bold" textLength="7.30" lengthAdjust="spacingAndGlyphs">C</text>
<line x1="52.30" y1="172.50" x2="55.30" y2="172.50" stroke="#000" stroke-width="1.2"/>
<text x="39.20" y="175.30" font-size="9.4" font-weight="bold" textLength="9.00" lengthAdjust="spacingAndGlyphs">75</text>
<line x1="52.30" y1="202.62" x2="55.30" y2="202.62" stroke="#000" stroke-width="1.2"/>
<text x="39.20" y="205.42" font-size="9.4" font-weight="bold" textLength="9.00" lengthAdjust="spacingAndGlyphs">50</text>
<line x1="52.30" y1="232.74" x2="55.30" y2="232.74" stroke="#000" stroke-width="1.2"/>
<text x="39.20" y="235.54" font-size="9.4" font-weight="bold" textLength="9.00" lengthAdjust="spacingAndGlyphs">25</text>
<line x1="52.30" y1="262.86" x2="55.30" y2="262.86" stroke="#000" stroke-width="1.2"/>
<text x="43.70" y="265.66" font-size="9.4" font-weight="bold" textLength="4.50" lengthAdjust="spacingAndGlyphs">0</text>
<line x1="52.30" y1="292.98" x2="55.30" y2="292.98" stroke="#000" stroke-width="1.2"/>
<text x="36.70" y="295.78" font-size="9.4" font-weight="bold" textLength="11.50" lengthAdjust="spacingAndGlyphs">-25</text>
<text x="7.70" y="291.20" font-size="9.6" stroke="#000" stroke-width="0.35" textLength="117.00" lengthAdjust="spacingAndGlyphs" transform="rotate(-90 7.70 291.20)">Difference of blood sugar level</text>
<text x="16.80" y="267.20" font-size="9.6" stroke="#000" stroke-width="0.35" textLength="70.00" lengthAdjust="spacingAndGlyphs" transform="rotate(-90 16.80 267.20)">(PPBS - Fasting)</text>
<text x="28.80" y="243.60" font-size="6.4" stroke="#000" stroke-width="0.2" textLength="20.00" lengthAdjust="spacingAndGlyphs" transform="rotate(-90 28.80 243.60)">(mg/dl)</text>
<text x="100.00" y="172.80" font-size="8.8" font-weight="bold" textLength="34.20" lengthAdjust="spacingAndGlyphs">p = 0.001</text>
<text x="64.20" y="304.70" font-size="7.0" stroke="#000" stroke-width="0.42" textLength="44.50" lengthAdjust="spacingAndGlyphs">Southern India</text>
<text x="128.00" y="304.70" font-size="7.0" stroke="#000" stroke-width="0.42" textLength="43.30" lengthAdjust="spacingAndGlyphs">Northern India</text>
<path d="M88.10 193.65L90.35 197.70L85.85 197.70Z" stroke="#000" stroke-width="1.35" fill="#fff" stroke-linejoin="round"/>
<path d="M94.10 195.75L96.35 199.80L91.85 199.80Z" stroke="#000" stroke-width="1.35" fill="#fff" stroke-linejoin="round"/>
<path d="M94.10 206.75L96.35 210.80L91.85 210.80Z" stroke="#000" stroke-width="1.35" fill="#fff" stroke-linejoin="round"/>
<path d="M94.10 219.95L96.35 224.00L91.85 224.00Z" stroke="#000" stroke-width="1.35" fill="#fff" stroke-linejoin="round"/>
<path d="M100.00 223.65L102.25 227.70L97.75 227.70Z" stroke="#000" stroke-width="1.35" fill="#fff" stroke-linejoin="round"/>
<path d="M94.10 225.95L96.35 230.00L91.85 230.00Z" stroke="#000" stroke-width="1.35" fill="#fff" stroke-linejoin="round"/>
<path d="M88.10 229.45L90.35 233.50L85.85 233.50Z" stroke="#000" stroke-width="1.35" fill="#fff" stroke-linejoin="round"/>
<path d="M94.10 232.25L96.35 236.30L91.85 236.30Z" stroke="#000" stroke-width="1.35" fill="#fff" stroke-linejoin="round"/>
<path d="M88.10 236.55L90.35 240.60L85.85 240.60Z" stroke="#000" stroke-width="1.35" fill="#fff" stroke-linejoin="round"/>
<path d="M100.00 238.75L102.25 242.80L97.75 242.80Z" stroke="#000" stroke-width="1.35" fill="#fff" stroke-linejoin="round"/>
<path d="M94.10 241.25L96.35 245.30L91.85 245.30Z" stroke="#000" stroke-width="1.35" fill="#fff" stroke-linejoin="round"/>
<path d="M88.10 243.55L90.35 247.60L85.85 247.60Z" stroke="#000" stroke-width="1.35" fill="#fff" stroke-linejoin="round"/>
<path d="M97.00 244.25L99.25 248.30L94.75 248.30Z" stroke="#000" stroke-width="1.35" fill="#fff" stroke-linejoin="round"/>
<path d="M105.80 244.95L108.05 249.00L103.55 249.00Z" stroke="#000" stroke-width="1.35" fill="#fff" stroke-linejoin="round"/>
<path d="M94.10 289.45L96.35 293.50L91.85 293.50Z" stroke="#000" stroke-width="1.35" fill="#fff" stroke-linejoin="round"/>
<path d="M82.14 247.89L84.39 251.94L79.89 251.94Z" stroke="#000" stroke-width="1.35" fill="#fff" stroke-linejoin="round"/>
<path d="M88.12 247.93L90.37 251.98L85.87 251.98Z" stroke="#000" stroke-width="1.35" fill="#fff" stroke-linejoin="round"/>
<path d="M94.18 247.50L96.43 251.55L91.93 251.55Z" stroke="#000" stroke-width="1.35" fill="#fff" stroke-linejoin="round"/>
<path d="M99.71 248.12L101.96 252.17L97.46 252.17Z" stroke="#000" stroke-width="1.35" fill="#fff" stroke-linejoin="round"/>
<path d="M105.76 247.64L108.01 251.69L103.51 251.69Z" stroke="#000" stroke-width="1.35" fill="#fff" stroke-linejoin="round"/>
<path d="M85.55 250.91L87.80 254.96L83.30 254.96Z" stroke="#000" stroke-width="1.35" fill="#fff" stroke-linejoin="round"/>
<path d="M91.35 250.91L93.60 254.96L89.10 254.96Z" stroke="#000" stroke-width="1.35" fill="#fff" stroke-linejoin="round"/>
<path d="M97.13 250.65L99.38 254.70L94.88 254.70Z" stroke="#000" stroke-width="1.35" fill="#fff" stroke-linejoin="round"/>
<path d="M103.03 251.22L105.28 255.27L100.78 255.27Z" stroke="#000" stroke-width="1.35" fill="#fff" stroke-linejoin="round"/>
<path d="M82.31 254.20L84.56 258.25L80.06 258.25Z" stroke="#000" stroke-width="1.35" fill="#fff" stroke-linejoin="round"/>
<path d="M88.30 253.66L90.55 257.71L86.05 257.71Z" stroke="#000" stroke-width="1.35" fill="#fff" stroke-linejoin="round"/>
<path d="M94.25 254.08L96.50 258.13L92.00 258.13Z" stroke="#000" stroke-width="1.35" fill="#fff" stroke-linejoin="round"/>
<path d="M99.88 253.63L102.13 257.68L97.63 257.68Z" stroke="#000" stroke-width="1.35" fill="#fff" stroke-linejoin="round"/>
<path d="M106.12 253.99L108.37 258.04L103.87 258.04Z" stroke="#000" stroke-width="1.35" fill="#fff" stroke-linejoin="round"/>
<path d="M79.48 257.39L81.73 261.44L77.23 261.44Z" stroke="#000" stroke-width="1.35" fill="#fff" stroke-linejoin="round"/>
<path d="M85.38 257.43L87.63 261.48L83.13 261.48Z" stroke="#000" stroke-width="1.35" fill="#fff" stroke-linejoin="round"/>
<path d="M91.09 257.33L93.34 261.38L88.84 261.38Z" stroke="#000" stroke-width="1.35" fill="#fff" stroke-linejoin="round"/>
<path d="M97.02 257.44L99.27 261.49L94.77 261.49Z" stroke="#000" stroke-width="1.35" fill="#fff" stroke-linejoin="round"/>
<path d="M103.18 256.77L105.43 260.82L100.93 260.82Z" stroke="#000" stroke-width="1.35" fill="#fff" stroke-linejoin="round"/>
<path d="M108.63 256.86L110.88 260.91L106.38 260.91Z" stroke="#000" stroke-width="1.35" fill="#fff" stroke-linejoin="round"/>
<path d="M82.58 260.12L84.83 264.17L80.33 264.17Z" stroke="#000" stroke-width="1.35" fill="#fff" stroke-linejoin="round"/>
<path d="M88.28 260.01L90.53 264.06L86.03 264.06Z" stroke="#000" stroke-width="1.35" fill="#fff" stroke-linejoin="round"/>
<path d="M94.10 260.08L96.35 264.13L91.85 264.13Z" stroke="#000" stroke-width="1.35" fill="#fff" stroke-linejoin="round"/>
<path d="M99.91 260.24L102.16 264.29L97.66 264.29Z" stroke="#000" stroke-width="1.35" fill="#fff" stroke-linejoin="round"/>
<path d="M105.95 260.49L108.20 264.54L103.70 264.54Z" stroke="#000" stroke-width="1.35" fill="#fff" stroke-linejoin="round"/>
<path d="M79.46 263.59L81.71 267.64L77.21 267.64Z" stroke="#000" stroke-width="1.35" fill="#fff" stroke-linejoin="round"/>
<path d="M85.46 263.64L87.71 267.69L83.21 267.69Z" stroke="#000" stroke-width="1.35" fill="#fff" stroke-linejoin="round"/>
<path d="M91.25 262.98L93.50 267.03L89.00 267.03Z" stroke="#000" stroke-width="1.35" fill="#fff" stroke-linejoin="round"/>
<path d="M97.27 263.62L99.52 267.67L95.02 267.67Z" stroke="#000" stroke-width="1.35" fill="#fff" stroke-linejoin="round"/>
<path d="M103.19 263.31L105.44 267.36L100.94 267.36Z" stroke="#000" stroke-width="1.35" fill="#fff" stroke-linejoin="round"/>
<path d="M108.98 263.02L111.23 267.07L106.73 267.07Z" stroke="#000" stroke-width="1.35" fill="#fff" stroke-linejoin="round"/>
<path d="M82.50 266.39L84.75 270.44L80.25 270.44Z" stroke="#000" stroke-width="1.35" fill="#fff" stroke-linejoin="round"/>
<path d="M88.07 265.98L90.32 270.03L85.82 270.03Z" stroke="#000" stroke-width="1.35" fill="#fff" stroke-linejoin="round"/>
<path d="M94.31 266.72L96.56 270.77L92.06 270.77Z" stroke="#000" stroke-width="1.35" fill="#fff" stroke-linejoin="round"/>
<path d="M99.75 266.57L102.00 270.62L97.50 270.62Z" stroke="#000" stroke-width="1.35" fill="#fff" stroke-linejoin="round"/>
<path d="M105.85 266.05L108.10 270.10L103.60 270.10Z" stroke="#000" stroke-width="1.35" fill="#fff" stroke-linejoin="round"/>
<path d="M79.23 269.63L81.48 273.68L76.98 273.68Z" stroke="#000" stroke-width="1.35" fill="#fff" stroke-linejoin="round"/>
<path d="M85.47 269.05L87.72 273.10L83.22 273.10Z" stroke="#000" stroke-width="1.35" fill="#fff" stroke-linejoin="round"/>
<path d="M91.22 269.05L93.47 273.10L88.97 273.10Z" stroke="#000" stroke-width="1.35" fill="#fff" stroke-linejoin="round"/>
<path d="M97.18 269.27L99.43 273.32L94.93 273.32Z" stroke="#000" stroke-width="1.35" fill="#fff" stroke-linejoin="round"/>
<path d="M103.18 269.79L105.43 273.84L100.93 273.84Z" stroke="#000" stroke-width="1.35" fill="#fff" stroke-linejoin="round"/>
<path d="M108.85 269.81L111.10 273.86L106.60 273.86Z" stroke="#000" stroke-width="1.35" fill="#fff" stroke-linejoin="round"/>
<path d="M82.19 272.15L84.44 276.20L79.94 276.20Z" stroke="#000" stroke-width="1.35" fill="#fff" stroke-linejoin="round"/>
<path d="M88.26 272.12L90.51 276.17L86.01 276.17Z" stroke="#000" stroke-width="1.35" fill="#fff" stroke-linejoin="round"/>
<path d="M93.92 272.42L96.17 276.47L91.67 276.47Z" stroke="#000" stroke-width="1.35" fill="#fff" stroke-linejoin="round"/>
<path d="M100.07 272.21L102.32 276.26L97.82 276.26Z" stroke="#000" stroke-width="1.35" fill="#fff" stroke-linejoin="round"/>
<path d="M105.63 272.78L107.88 276.83L103.38 276.83Z" stroke="#000" stroke-width="1.35" fill="#fff" stroke-linejoin="round"/>
<path d="M94.50 274.55L96.75 278.60L92.25 278.60Z" stroke="#000" stroke-width="1.35" fill="#fff" stroke-linejoin="round"/>
<line x1="74.00" y1="256.80" x2="114.30" y2="256.80" stroke="#000" stroke-width="1.5"/>
<circle cx="146.90" cy="186.80" r="1.95" fill="#000"/>
<circle cx="152.80" cy="191.30" r="1.95" fill="#000"/>
<circle cx="152.80" cy="201.30" r="1.95" fill="#000"/>
<circle cx="158.80" cy="201.30" r="1.95" fill="#000"/>
<circle cx="152.80" cy="207.30" r="1.95" fill="#000"/>
<circle cx="164.60" cy="210.80" r="1.95" fill="#000"/>
<circle cx="146.90" cy="211.80" r="1.95" fill="#000"/>
<circle cx="158.80" cy="213.30" r="1.95" fill="#000"/>
<circle cx="146.90" cy="215.50" r="1.95" fill="#000"/>
<circle cx="152.80" cy="214.50" r="1.95" fill="#000"/>
<circle cx="152.80" cy="220.50" r="1.95" fill="#000"/>
<circle cx="155.80" cy="225.00" r="1.95" fill="#000"/>
<circle cx="140.90" cy="227.70" r="1.95" fill="#000"/>
<circle cx="164.60" cy="228.40" r="1.95" fill="#000"/>
<circle cx="146.90" cy="229.50" r="1.95" fill="#000"/>
<circle cx="152.80" cy="229.80" r="1.95" fill="#000"/>
<circle cx="158.80" cy="229.50" r="1.95" fill="#000"/>
<circle cx="141.20" cy="230.80" r="1.95" fill="#000"/>
<circle cx="164.60" cy="231.20" r="1.95" fill="#000"/>
<circle cx="141.20" cy="233.30" r="1.95" fill="#000"/>
<circle cx="146.90" cy="233.60" r="1.95" fill="#000"/>
<circle cx="152.80" cy="232.30" r="1.95" fill="#000"/>
<circle cx="158.80" cy="233.00" r="1.95" fill="#000"/>
<circle cx="164.60" cy="233.40" r="1.95" fill="#000"/>
<circle cx="153.00" cy="236.20" r="1.95" fill="#000"/>
<circle cx="147.00" cy="241.20" r="1.95" fill="#000"/>
<circle cx="153.00" cy="242.00" r="1.95" fill="#000"/>
<circle cx="158.80" cy="242.00" r="1.95" fill="#000"/>
<circle cx="146.60" cy="274.30" r="1.95" fill="#000"/>
<circle cx="151.80" cy="274.30" r="1.95" fill="#000"/>
<circle cx="152.20" cy="280.90" r="1.95" fill="#000"/>
<circle cx="155.70" cy="246.90" r="1.95" fill="#000"/>
<circle cx="146.60" cy="248.10" r="1.95" fill="#000"/>
<circle cx="140.70" cy="249.50" r="1.95" fill="#000"/>
<circle cx="158.90" cy="249.50" r="1.95" fill="#000"/>
<circle cx="164.40" cy="249.50" r="1.95" fill="#000"/>
<circle cx="146.60" cy="250.60" r="1.95" fill="#000"/>
<circle cx="152.50" cy="250.40" r="1.95" fill="#000"/>
<circle cx="143.90" cy="251.30" r="1.95" fill="#000"/>
<circle cx="138.00" cy="252.00" r="1.95" fill="#000"/>
<circle cx="168.00" cy="252.00" r="1.95" fill="#000"/>
<circle cx="149.80" cy="253.10" r="1.95" fill="#000"/>
<circle cx="155.70" cy="253.10" r="1.95" fill="#000"/>
<circle cx="161.60" cy="253.10" r="1.95" fill="#000"/>
<circle cx="164.80" cy="254.20" r="1.95" fill="#000"/>
<circle cx="146.60" cy="255.40" r="1.95" fill="#000"/>
<circle cx="158.90" cy="255.40" r="1.95" fill="#000"/>
<circle cx="152.50" cy="255.80" r="1.95" fill="#000"/>
<circle cx="149.80" cy="257.50" r="1.95" fill="#000"/>
<circle cx="162.10" cy="257.50" r="1.95" fill="#000"/>
<circle cx="167.50" cy="257.70" r="1.95" fill="#000"/>
<circle cx="140.70" cy="258.60" r="1.95" fill="#000"/>
<circle cx="155.70" cy="260.90" r="1.95" fill="#000"/>
<circle cx="140.70" cy="261.60" r="1.95" fill="#000"/>
<circle cx="152.50" cy="262.00" r="1.95" fill="#000"/>
<circle cx="146.60" cy="262.50" r="1.95" fill="#000"/>
<circle cx="159.20" cy="262.60" r="1.95" fill="#000"/>
<circle cx="164.40" cy="262.30" r="1.95" fill="#000"/>
<circle cx="137.70" cy="263.50" r="1.95" fill="#000"/>
<circle cx="143.00" cy="264.20" r="1.95" fill="#000"/>
<circle cx="168.00" cy="264.20" r="1.95" fill="#000"/>
<circle cx="149.80" cy="265.10" r="1.95" fill="#000"/>
<circle cx="162.10" cy="265.10" r="1.95" fill="#000"/>
<circle cx="155.70" cy="266.00" r="1.95" fill="#000"/>
<circle cx="146.60" cy="266.90" r="1.95" fill="#000"/>
<circle cx="140.70" cy="267.40" r="1.95" fill="#000"/>
<circle cx="164.80" cy="267.40" r="1.95" fill="#000"/>
<circle cx="158.90" cy="267.80" r="1.95" fill="#000"/>
<circle cx="152.50" cy="268.70" r="1.95" fill="#000"/>
<circle cx="158.90" cy="271.00" r="1.95" fill="#000"/>
<line x1="132.60" y1="245.60" x2="173.30" y2="245.60" stroke="#000" stroke-width="1.5"/>
<line x1="55.30" y1="171.90" x2="55.30" y2="293.60" stroke="#000" stroke-width="1.4"/>
<line x1="54.70" y1="293.00" x2="193.00" y2="293.00" stroke="#000" stroke-width="1.4"/>
<path d="M93 193.8V178H146.3V185" stroke="#000" stroke-width="1.3" fill="none"/>
</g>
<g id="panelD">
<text x="222.30" y="167.20" font-size="11.0" stroke="#000" stroke-width="0.2" font-weight="bold" textLength="7.20" lengthAdjust="spacingAndGlyphs">D</text>
<line x1="260.20" y1="172.50" x2="260.20" y2="293.65" stroke="#000" stroke-width="1.3"/>
<line x1="259.60" y1="293.05" x2="432.90" y2="293.05" stroke="#000" stroke-width="1.3"/>
<line x1="257.60" y1="173.00" x2="260.20" y2="173.00" stroke="#000" stroke-width="1.1"/>
<text x="242.10" y="176.00" font-size="8.4" stroke="#000" stroke-width="0.45" textLength="12.30" lengthAdjust="spacingAndGlyphs">150</text>
<line x1="257.60" y1="190.15" x2="260.20" y2="190.15" stroke="#000" stroke-width="1.1"/>
<text x="242.10" y="193.15" font-size="8.4" stroke="#000" stroke-width="0.45" textLength="12.30" lengthAdjust="spacingAndGlyphs">125</text>
<line x1="257.60" y1="207.30" x2="260.20" y2="207.30" stroke="#000" stroke-width="1.1"/>
<text x="242.10" y="210.30" font-size="8.4" stroke="#000" stroke-width="0.45" textLength="12.30" lengthAdjust="spacingAndGlyphs">100</text>
<line x1="257.60" y1="224.45" x2="260.20" y2="224.45" stroke="#000" stroke-width="1.1"/>
<text x="246.20" y="227.45" font-size="8.4" stroke="#000" stroke-width="0.45" textLength="8.20" lengthAdjust="spacingAndGlyphs">75</text>
<line x1="257.60" y1="241.60" x2="260.20" y2="241.60" stroke="#000" stroke-width="1.1"/>
<text x="246.20" y="244.60" font-size="8.4" stroke="#000" stroke-width="0.45" textLength="8.20" lengthAdjust="spacingAndGlyphs">50</text>
<line x1="257.60" y1="258.75" x2="260.20" y2="258.75" stroke="#000" stroke-width="1.1"/>
<text x="246.20" y="261.75" font-size="8.4" stroke="#000" stroke-width="0.45" textLength="8.20" lengthAdjust="spacingAndGlyphs">25</text>
<line x1="257.60" y1="275.90" x2="260.20" y2="275.90" stroke="#000" stroke-width="1.1"/>
<text x="250.30" y="278.90" font-size="8.4" stroke="#000" stroke-width="0.45" textLength="4.10" lengthAdjust="spacingAndGlyphs">0</text>
<line x1="257.60" y1="293.05" x2="260.20" y2="293.05" stroke="#000" stroke-width="1.1"/>
<text x="243.40" y="296.05" font-size="8.4" stroke="#000" stroke-width="0.45" textLength="11.00" lengthAdjust="spacingAndGlyphs">-25</text>
<line x1="260.20" y1="293.05" x2="260.20" y2="295.65" stroke="#000" stroke-width="1.1"/>
<text x="258.10" y="306.50" font-size="9.7" font-weight="bold" textLength="4.40" lengthAdjust="spacingAndGlyphs">0</text>
<line x1="274.57" y1="293.05" x2="274.57" y2="295.65" stroke="#000" stroke-width="1.1"/>
<text x="270.43" y="306.50" font-size="9.7" font-weight="bold" textLength="8.50" lengthAdjust="spacingAndGlyphs">15</text>
<line x1="288.95" y1="293.05" x2="288.95" y2="295.65" stroke="#000" stroke-width="1.1"/>
<text x="284.80" y="306.50" font-size="9.7" font-weight="bold" textLength="8.50" lengthAdjust="spacingAndGlyphs">30</text>
<line x1="303.32" y1="293.05" x2="303.32" y2="295.65" stroke="#000" stroke-width="1.1"/>
<text x="299.18" y="306.50" font-size="9.7" font-weight="bold" textLength="8.50" lengthAdjust="spacingAndGlyphs">45</text>
<line x1="317.70" y1="293.05" x2="317.70" y2="295.65" stroke="#000" stroke-width="1.1"/>
<text x="313.55" y="306.50" font-size="9.7" font-weight="bold" textLength="8.50" lengthAdjust="spacingAndGlyphs">60</text>
<line x1="332.07" y1="293.05" x2="332.07" y2="295.65" stroke="#000" stroke-width="1.1"/>
<text x="327.93" y="306.50" font-size="9.7" font-weight="bold" textLength="8.50" lengthAdjust="spacingAndGlyphs">75</text>
<line x1="346.45" y1="293.05" x2="346.45" y2="295.65" stroke="#000" stroke-width="1.1"/>
<text x="342.30" y="306.50" font-size="9.7" font-weight="bold" textLength="8.50" lengthAdjust="spacingAndGlyphs">90</text>
<line x1="360.82" y1="293.05" x2="360.82" y2="295.65" stroke="#000" stroke-width="1.1"/>
<text x="354.62" y="306.50" font-size="9.7" font-weight="bold" textLength="12.60" lengthAdjust="spacingAndGlyphs">105</text>
<line x1="375.20" y1="293.05" x2="375.20" y2="295.65" stroke="#000" stroke-width="1.1"/>
<text x="369.00" y="306.50" font-size="9.7" font-weight="bold" textLength="12.60" lengthAdjust="spacingAndGlyphs">120</text>
<line x1="389.57" y1="293.05" x2="389.57" y2="295.65" stroke="#000" stroke-width="1.1"/>
<text x="383.38" y="306.50" font-size="9.7" font-weight="bold" textLength="12.60" lengthAdjust="spacingAndGlyphs">135</text>
<line x1="403.95" y1="293.05" x2="403.95" y2="295.65" stroke="#000" stroke-width="1.1"/>
<text x="397.75" y="306.50" font-size="9.7" font-weight="bold" textLength="12.60" lengthAdjust="spacingAndGlyphs">150</text>
<line x1="418.32" y1="293.05" x2="418.32" y2="295.65" stroke="#000" stroke-width="1.1"/>
<text x="412.12" y="306.50" font-size="9.7" font-weight="bold" textLength="12.60" lengthAdjust="spacingAndGlyphs">165</text>
<line x1="432.70" y1="293.05" x2="432.70" y2="295.65" stroke="#000" stroke-width="1.1"/>
<text x="426.50" y="306.50" font-size="9.7" font-weight="bold" textLength="12.60" lengthAdjust="spacingAndGlyphs">180</text>
<text x="228.30" y="284.30" font-size="7.0" stroke="#000" stroke-width="0.25" font-weight="bold" textLength="106.00" lengthAdjust="spacingAndGlyphs" transform="rotate(-90 228.30 284.30)">Mean hydrogen value in ppm</text>
<text x="235.70" y="254.00" font-size="7.0" stroke="#000" stroke-width="0.25" font-weight="bold" textLength="45.40" lengthAdjust="spacingAndGlyphs" transform="rotate(-90 235.70 254.00)">(mean ± SD)</text>
<text x="270.30" y="182.10" font-size="8.8" stroke="#000" stroke-width="0.4" textLength="128.50" lengthAdjust="spacingAndGlyphs">Type III Sum of Squares = 783339.98</text>
<text x="270.80" y="202.00" font-size="8.8" stroke="#000" stroke-width="0.4" textLength="40.60" lengthAdjust="spacingAndGlyphs">P &lt; 0.00001</text>
<text x="325.30" y="319.60" font-size="7.5" stroke="#000" stroke-width="0.25" font-weight="bold" textLength="42.50" lengthAdjust="spacingAndGlyphs">Time (minute)</text>
<line x1="260.20" y1="268.20" x2="260.20" y2="272.00" stroke="#000" stroke-width="1.35"/>
<line x1="260.20" y1="271.50" x2="260.20" y2="276.30" stroke="#000" stroke-width="1.35"/>
<line x1="257.50" y1="268.20" x2="262.90" y2="268.20" stroke="#000" stroke-width="1.1"/>
<line x1="257.50" y1="276.30" x2="262.90" y2="276.30" stroke="#000" stroke-width="1.1"/>
<line x1="274.57" y1="267.20" x2="274.57" y2="272.20" stroke="#000" stroke-width="1.35"/>
<line x1="274.57" y1="271.00" x2="274.57" y2="276.30" stroke="#000" stroke-width="1.35"/>
<line x1="271.88" y1="267.20" x2="277.27" y2="267.20" stroke="#000" stroke-width="1.1"/>
<line x1="271.88" y1="276.30" x2="277.27" y2="276.30" stroke="#000" stroke-width="1.1"/>
<line x1="288.95" y1="265.00" x2="288.95" y2="271.30" stroke="#000" stroke-width="1.35"/>
<line x1="288.95" y1="268.90" x2="288.95" y2="281.80" stroke="#000" stroke-width="1.35"/>
<line x1="286.25" y1="265.00" x2="291.65" y2="265.00" stroke="#000" stroke-width="1.1"/>
<line x1="286.25" y1="281.80" x2="291.65" y2="281.80" stroke="#000" stroke-width="1.1"/>
<line x1="303.32" y1="250.00" x2="303.32" y2="266.80" stroke="#000" stroke-width="1.35"/>
<line x1="303.32" y1="265.60" x2="303.32" y2="281.00" stroke="#000" stroke-width="1.35"/>
<line x1="300.62" y1="250.00" x2="306.02" y2="250.00" stroke="#000" stroke-width="1.1"/>
<line x1="300.62" y1="281.00" x2="306.02" y2="281.00" stroke="#000" stroke-width="1.1"/>
<line x1="317.70" y1="235.00" x2="317.70" y2="260.00" stroke="#000" stroke-width="1.35"/>
<line x1="317.70" y1="260.00" x2="317.70" y2="281.80" stroke="#000" stroke-width="1.35"/>
<line x1="315.00" y1="235.00" x2="320.40" y2="235.00" stroke="#000" stroke-width="1.1"/>
<line x1="315.00" y1="281.80" x2="320.40" y2="281.80" stroke="#000" stroke-width="1.1"/>
<line x1="332.07" y1="213.60" x2="332.07" y2="249.30" stroke="#000" stroke-width="1.35"/>
<line x1="332.07" y1="254.30" x2="332.07" y2="281.00" stroke="#000" stroke-width="1.35"/>
<line x1="329.38" y1="213.60" x2="334.77" y2="213.60" stroke="#000" stroke-width="1.1"/>
<line x1="329.38" y1="281.00" x2="334.77" y2="281.00" stroke="#000" stroke-width="1.1"/>
<line x1="346.45" y1="203.80" x2="346.45" y2="241.80" stroke="#000" stroke-width="1.35"/>
<line x1="346.45" y1="251.80" x2="346.45" y2="279.80" stroke="#000" stroke-width="1.35"/>
<line x1="343.75" y1="203.80" x2="349.15" y2="203.80" stroke="#000" stroke-width="1.1"/>
<line x1="343.75" y1="279.80" x2="349.15" y2="279.80" stroke="#000" stroke-width="1.1"/>
<line x1="360.82" y1="198.00" x2="360.82" y2="235.50" stroke="#000" stroke-width="1.35"/>
<line x1="360.82" y1="249.30" x2="360.82" y2="279.80" stroke="#000" stroke-width="1.35"/>
<line x1="358.12" y1="198.00" x2="363.52" y2="198.00" stroke="#000" stroke-width="1.1"/>
<line x1="358.12" y1="279.80" x2="363.52" y2="279.80" stroke="#000" stroke-width="1.1"/>
<line x1="375.20" y1="187.00" x2="375.20" y2="229.50" stroke="#000" stroke-width="1.35"/>
<line x1="375.20" y1="248.50" x2="375.20" y2="281.00" stroke="#000" stroke-width="1.35"/>
<line x1="372.50" y1="187.00" x2="377.90" y2="187.00" stroke="#000" stroke-width="1.1"/>
<line x1="372.50" y1="281.00" x2="377.90" y2="281.00" stroke="#000" stroke-width="1.1"/>
<line x1="389.57" y1="188.30" x2="389.57" y2="229.30" stroke="#000" stroke-width="1.35"/>
<line x1="389.57" y1="248.50" x2="389.57" y2="280.50" stroke="#000" stroke-width="1.35"/>
<line x1="386.88" y1="188.30" x2="392.27" y2="188.30" stroke="#000" stroke-width="1.1"/>
<line x1="386.88" y1="280.50" x2="392.27" y2="280.50" stroke="#000" stroke-width="1.1"/>
<line x1="403.95" y1="184.30" x2="403.95" y2="228.00" stroke="#000" stroke-width="1.35"/>
<line x1="403.95" y1="246.00" x2="403.95" y2="281.00" stroke="#000" stroke-width="1.35"/>
<line x1="401.25" y1="184.30" x2="406.65" y2="184.30" stroke="#000" stroke-width="1.1"/>
<line x1="401.25" y1="281.00" x2="406.65" y2="281.00" stroke="#000" stroke-width="1.1"/>
<line x1="418.32" y1="186.00" x2="418.32" y2="229.30" stroke="#000" stroke-width="1.35"/>
<line x1="418.32" y1="247.30" x2="418.32" y2="278.00" stroke="#000" stroke-width="1.35"/>
<line x1="415.62" y1="186.00" x2="421.02" y2="186.00" stroke="#000" stroke-width="1.1"/>
<line x1="415.62" y1="278.00" x2="421.02" y2="278.00" stroke="#000" stroke-width="1.1"/>
<line x1="432.70" y1="192.50" x2="432.70" y2="231.30" stroke="#444" stroke-width="0.9"/>
<line x1="432.70" y1="244.30" x2="432.70" y2="278.80" stroke="#444" stroke-width="0.9"/>
<line x1="430.00" y1="192.50" x2="433.10" y2="192.50" stroke="#444" stroke-width="1.1"/>
<line x1="430.00" y1="278.80" x2="433.10" y2="278.80" stroke="#444" stroke-width="1.1"/>
<path d="M260.20 272.00 L274.57 272.20 L288.95 271.30 L303.32 266.80 L317.70 260.00 L332.07 249.30 L346.45 241.80 L360.82 235.50 L375.20 229.50 L389.57 229.30 L403.95 228.00 L418.32 229.30 L432.70 231.30" stroke="#000" stroke-width="1.5" fill="none"/>
<path d="M260.20 271.50 L274.57 271.00 L288.95 268.90 L303.32 265.60 L317.70 260.00 L332.07 254.30 L346.45 251.80 L360.82 249.30 L375.20 248.50 L389.57 248.50 L403.95 246.00 L418.32 247.30 L432.70 244.30" stroke="#000" stroke-width="1.5" fill="none"/>
<circle cx="260.20" cy="271.50" r="2.2" stroke="#000" stroke-width="1.3" fill="#fff"/>
<circle cx="274.57" cy="271.00" r="2.2" stroke="#000" stroke-width="1.3" fill="#fff"/>
<circle cx="288.95" cy="268.90" r="2.2" stroke="#000" stroke-width="1.3" fill="#fff"/>
<circle cx="303.32" cy="265.60" r="2.2" stroke="#000" stroke-width="1.3" fill="#fff"/>
<circle cx="317.70" cy="260.00" r="2.2" stroke="#000" stroke-width="1.3" fill="#fff"/>
<circle cx="332.07" cy="254.30" r="2.2" stroke="#000" stroke-width="1.3" fill="#fff"/>
<circle cx="346.45" cy="251.80" r="2.2" stroke="#000" stroke-width="1.3" fill="#fff"/>
<circle cx="360.82" cy="249.30" r="2.2" stroke="#000" stroke-width="1.3" fill="#fff"/>
<circle cx="375.20" cy="248.50" r="2.2" stroke="#000" stroke-width="1.3" fill="#fff"/>
<circle cx="389.57" cy="248.50" r="2.2" stroke="#000" stroke-width="1.3" fill="#fff"/>
<circle cx="403.95" cy="246.00" r="2.2" stroke="#000" stroke-width="1.3" fill="#fff"/>
<circle cx="418.32" cy="247.30" r="2.2" stroke="#000" stroke-width="1.3" fill="#fff"/>
<circle cx="432.70" cy="244.30" r="2.2" stroke="#000" stroke-width="1.3" fill="#fff"/>
<rect x="258.00" y="269.80" width="4.40" height="4.40" stroke="#000" stroke-width="1.3" fill="#fff"/>
<rect x="272.38" y="270.00" width="4.40" height="4.40" stroke="#000" stroke-width="1.3" fill="#fff"/>
<rect x="286.75" y="269.10" width="4.40" height="4.40" stroke="#000" stroke-width="1.3" fill="#fff"/>
<rect x="301.12" y="264.60" width="4.40" height="4.40" stroke="#000" stroke-width="1.3" fill="#fff"/>
<rect x="315.50" y="257.80" width="4.40" height="4.40" stroke="#000" stroke-width="1.3" fill="#fff"/>
<rect x="329.88" y="247.10" width="4.40" height="4.40" stroke="#000" stroke-width="1.3" fill="#fff"/>
<rect x="344.25" y="239.60" width="4.40" height="4.40" stroke="#000" stroke-width="1.3" fill="#fff"/>
<rect x="358.62" y="233.30" width="4.40" height="4.40" stroke="#000" stroke-width="1.3" fill="#fff"/>
<rect x="373.00" y="227.30" width="4.40" height="4.40" stroke="#000" stroke-width="1.3" fill="#fff"/>
<rect x="387.38" y="227.10" width="4.40" height="4.40" stroke="#000" stroke-width="1.3" fill="#fff"/>
<rect x="401.75" y="225.80" width="4.40" height="4.40" stroke="#000" stroke-width="1.3" fill="#fff"/>
<rect x="416.12" y="227.10" width="4.40" height="4.40" stroke="#000" stroke-width="1.3" fill="#fff"/>
<rect x="430.50" y="229.10" width="4.40" height="4.40" stroke="#000" stroke-width="1.3" fill="#fff"/>
<line x1="260.90" y1="328.40" x2="272.30" y2="328.40" stroke="#000" stroke-width="1.3"/>
<rect x="264.60" y="326.40" width="4.00" height="4.00" stroke="#000" stroke-width="1.2" fill="#fff"/>
<text x="274.40" y="331.20" font-size="9.0" stroke="#000" stroke-width="0.3" textLength="48.80" lengthAdjust="spacingAndGlyphs">Southern India</text>
<line x1="329.10" y1="328.40" x2="340.50" y2="328.40" stroke="#000" stroke-width="1.3"/>
<circle cx="334.80" cy="328.40" r="2.1" stroke="#000" stroke-width="1.2" fill="#fff"/>
<text x="342.70" y="331.20" font-size="9.0" stroke="#000" stroke-width="0.3" textLength="46.60" lengthAdjust="spacingAndGlyphs">Northern India</text>
</g>
</svg>
</body></html>
